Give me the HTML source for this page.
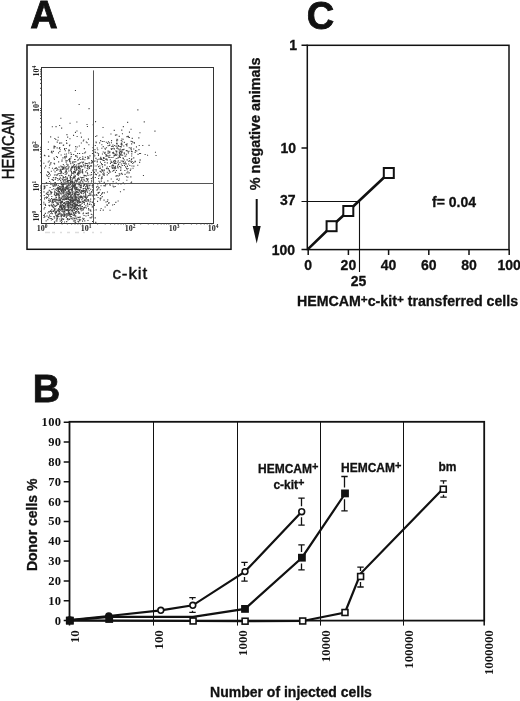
<!DOCTYPE html>
<html><head><meta charset="utf-8"><title>Figure</title>
<style>
html,body{margin:0;padding:0;background:#fff;width:520px;height:701px;overflow:hidden;}
svg{display:block;will-change:transform;}
text{fill:#111;}
</style></head>
<body>
<svg width="520" height="701" viewBox="0 0 520 701">
<text x="30.2" y="28" font-family="Liberation Sans, sans-serif" font-size="38" font-weight="bold" text-anchor="start" stroke="#111" stroke-width="0.8">A</text>
<rect x="27" y="45" width="204" height="204.3" fill="none" stroke="#111" stroke-width="1.5"/>
<rect x="41.5" y="67.5" width="172" height="156" fill="none" stroke="#333" stroke-width="1"/>
<path d="M64.7 206.7h1.1v1.1h-1.1zM65.1 193.6h1.1v1.1h-1.1zM55.9 196.9h1.1v1.1h-1.1zM82.5 202.0h1.1v1.1h-1.1zM81.5 199.4h1.1v1.1h-1.1zM73.1 200.0h1.1v1.1h-1.1zM46.3 215.5h1.1v1.1h-1.1zM74.6 204.7h1.1v1.1h-1.1zM46.0 174.5h1.1v1.1h-1.1zM56.4 192.7h1.1v1.1h-1.1zM72.0 196.5h1.1v1.1h-1.1zM74.8 186.6h1.1v1.1h-1.1zM72.0 203.5h1.1v1.1h-1.1zM75.2 215.6h1.1v1.1h-1.1zM59.9 187.8h1.1v1.1h-1.1zM63.5 197.1h1.1v1.1h-1.1zM76.2 200.4h1.1v1.1h-1.1zM62.2 183.9h1.1v1.1h-1.1zM61.2 218.6h1.1v1.1h-1.1zM57.5 203.8h1.1v1.1h-1.1zM73.5 173.4h1.1v1.1h-1.1zM68.6 218.5h1.1v1.1h-1.1zM66.6 185.3h1.1v1.1h-1.1zM74.5 195.8h1.1v1.1h-1.1zM49.0 214.6h1.1v1.1h-1.1zM76.7 211.4h1.1v1.1h-1.1zM86.7 200.3h1.1v1.1h-1.1zM69.6 177.2h1.1v1.1h-1.1zM76.0 186.8h1.1v1.1h-1.1zM62.1 179.1h1.1v1.1h-1.1zM55.4 191.9h1.1v1.1h-1.1zM84.8 162.8h1.1v1.1h-1.1zM49.0 205.3h1.1v1.1h-1.1zM86.8 203.7h1.1v1.1h-1.1zM43.3 162.7h1.1v1.1h-1.1zM72.6 185.5h1.1v1.1h-1.1zM53.4 216.1h1.1v1.1h-1.1zM82.3 197.8h1.1v1.1h-1.1zM71.2 204.3h1.1v1.1h-1.1zM88.7 204.0h1.1v1.1h-1.1zM74.7 205.4h1.1v1.1h-1.1zM80.4 204.1h1.1v1.1h-1.1zM78.9 167.3h1.1v1.1h-1.1zM65.6 214.6h1.1v1.1h-1.1zM75.2 194.3h1.1v1.1h-1.1zM72.2 207.5h1.1v1.1h-1.1zM69.6 215.8h1.1v1.1h-1.1zM59.4 193.0h1.1v1.1h-1.1zM81.5 195.9h1.1v1.1h-1.1zM56.6 215.1h1.1v1.1h-1.1zM87.1 187.4h1.1v1.1h-1.1zM50.1 199.2h1.1v1.1h-1.1zM66.1 193.6h1.1v1.1h-1.1zM86.3 178.4h1.1v1.1h-1.1zM84.4 174.9h1.1v1.1h-1.1zM57.8 209.9h1.1v1.1h-1.1zM82.7 208.9h1.1v1.1h-1.1zM72.5 199.4h1.1v1.1h-1.1zM70.0 206.7h1.1v1.1h-1.1zM65.7 202.8h1.1v1.1h-1.1zM75.4 196.6h1.1v1.1h-1.1zM77.9 205.1h1.1v1.1h-1.1zM94.1 198.3h1.1v1.1h-1.1zM62.4 193.1h1.1v1.1h-1.1zM67.8 212.6h1.1v1.1h-1.1zM63.6 204.9h1.1v1.1h-1.1zM91.9 153.0h1.1v1.1h-1.1zM53.4 204.6h1.1v1.1h-1.1zM73.2 200.8h1.1v1.1h-1.1zM62.4 209.4h1.1v1.1h-1.1zM71.7 189.1h1.1v1.1h-1.1zM99.6 197.8h1.1v1.1h-1.1zM60.8 197.8h1.1v1.1h-1.1zM65.1 197.5h1.1v1.1h-1.1zM81.1 177.1h1.1v1.1h-1.1zM67.1 213.2h1.1v1.1h-1.1zM79.1 219.5h1.1v1.1h-1.1zM45.9 196.5h1.1v1.1h-1.1zM63.6 208.7h1.1v1.1h-1.1zM82.2 152.9h1.1v1.1h-1.1zM82.2 172.5h1.1v1.1h-1.1zM76.9 172.8h1.1v1.1h-1.1zM70.3 216.5h1.1v1.1h-1.1zM66.1 201.4h1.1v1.1h-1.1zM78.4 198.3h1.1v1.1h-1.1zM81.6 190.8h1.1v1.1h-1.1zM103.7 173.3h1.1v1.1h-1.1zM79.9 191.6h1.1v1.1h-1.1zM69.7 208.8h1.1v1.1h-1.1zM70.9 207.6h1.1v1.1h-1.1zM48.1 177.8h1.1v1.1h-1.1zM76.0 181.3h1.1v1.1h-1.1zM54.7 177.2h1.1v1.1h-1.1zM84.5 206.8h1.1v1.1h-1.1zM87.1 179.6h1.1v1.1h-1.1zM68.0 180.0h1.1v1.1h-1.1zM78.0 221.3h1.1v1.1h-1.1zM80.8 192.8h1.1v1.1h-1.1zM66.7 188.7h1.1v1.1h-1.1zM73.2 203.5h1.1v1.1h-1.1zM87.5 178.3h1.1v1.1h-1.1zM82.8 218.8h1.1v1.1h-1.1zM86.9 191.7h1.1v1.1h-1.1zM58.3 215.9h1.1v1.1h-1.1zM69.5 199.7h1.1v1.1h-1.1zM86.5 190.4h1.1v1.1h-1.1zM43.9 215.4h1.1v1.1h-1.1zM72.1 187.6h1.1v1.1h-1.1zM67.9 211.2h1.1v1.1h-1.1zM69.0 218.8h1.1v1.1h-1.1zM67.2 214.6h1.1v1.1h-1.1zM87.4 219.9h1.1v1.1h-1.1zM59.3 213.5h1.1v1.1h-1.1zM43.6 185.4h1.1v1.1h-1.1zM52.0 200.8h1.1v1.1h-1.1zM65.5 198.0h1.1v1.1h-1.1zM60.3 203.1h1.1v1.1h-1.1zM91.3 194.4h1.1v1.1h-1.1zM74.9 212.6h1.1v1.1h-1.1zM65.4 178.5h1.1v1.1h-1.1zM60.8 216.3h1.1v1.1h-1.1zM46.6 192.5h1.1v1.1h-1.1zM81.1 208.1h1.1v1.1h-1.1zM68.1 210.7h1.1v1.1h-1.1zM70.2 179.0h1.1v1.1h-1.1zM47.7 191.6h1.1v1.1h-1.1zM80.0 186.8h1.1v1.1h-1.1zM56.3 188.0h1.1v1.1h-1.1zM48.1 199.8h1.1v1.1h-1.1zM52.7 206.6h1.1v1.1h-1.1zM59.7 168.8h1.1v1.1h-1.1zM77.4 191.9h1.1v1.1h-1.1zM71.8 190.0h1.1v1.1h-1.1zM78.1 208.0h1.1v1.1h-1.1zM76.7 201.6h1.1v1.1h-1.1zM85.3 205.2h1.1v1.1h-1.1zM73.9 164.0h1.1v1.1h-1.1zM79.7 216.6h1.1v1.1h-1.1zM64.1 191.3h1.1v1.1h-1.1zM93.2 165.5h1.1v1.1h-1.1zM55.9 211.1h1.1v1.1h-1.1zM92.5 191.6h1.1v1.1h-1.1zM75.3 210.9h1.1v1.1h-1.1zM56.2 198.8h1.1v1.1h-1.1zM71.8 210.4h1.1v1.1h-1.1zM67.6 195.0h1.1v1.1h-1.1zM54.8 194.8h1.1v1.1h-1.1zM79.6 197.5h1.1v1.1h-1.1zM56.9 186.7h1.1v1.1h-1.1zM102.7 209.6h1.1v1.1h-1.1zM76.3 155.5h1.1v1.1h-1.1zM76.1 204.1h1.1v1.1h-1.1zM89.9 200.7h1.1v1.1h-1.1zM67.1 206.4h1.1v1.1h-1.1zM72.2 186.1h1.1v1.1h-1.1zM49.8 190.8h1.1v1.1h-1.1zM71.8 200.2h1.1v1.1h-1.1zM62.8 183.5h1.1v1.1h-1.1zM95.6 209.3h1.1v1.1h-1.1zM52.5 179.6h1.1v1.1h-1.1zM90.1 209.6h1.1v1.1h-1.1zM91.7 206.4h1.1v1.1h-1.1zM56.7 204.2h1.1v1.1h-1.1zM67.2 206.4h1.1v1.1h-1.1zM58.5 197.8h1.1v1.1h-1.1zM74.0 202.9h1.1v1.1h-1.1zM76.3 199.8h1.1v1.1h-1.1zM63.8 211.3h1.1v1.1h-1.1zM68.6 184.8h1.1v1.1h-1.1zM59.9 199.5h1.1v1.1h-1.1zM66.6 200.7h1.1v1.1h-1.1zM68.0 200.8h1.1v1.1h-1.1zM66.3 178.4h1.1v1.1h-1.1zM73.5 213.7h1.1v1.1h-1.1zM73.7 194.0h1.1v1.1h-1.1zM73.8 181.7h1.1v1.1h-1.1zM43.4 203.5h1.1v1.1h-1.1zM55.9 211.9h1.1v1.1h-1.1zM53.9 159.0h1.1v1.1h-1.1zM63.0 177.3h1.1v1.1h-1.1zM58.1 208.1h1.1v1.1h-1.1zM74.5 199.6h1.1v1.1h-1.1zM87.3 205.6h1.1v1.1h-1.1zM67.7 207.5h1.1v1.1h-1.1zM89.5 209.4h1.1v1.1h-1.1zM81.3 178.4h1.1v1.1h-1.1zM66.1 209.9h1.1v1.1h-1.1zM64.1 215.6h1.1v1.1h-1.1zM75.8 210.9h1.1v1.1h-1.1zM84.1 191.6h1.1v1.1h-1.1zM63.5 212.7h1.1v1.1h-1.1zM80.7 195.8h1.1v1.1h-1.1zM52.8 203.8h1.1v1.1h-1.1zM72.7 215.0h1.1v1.1h-1.1zM78.2 196.5h1.1v1.1h-1.1zM79.1 204.5h1.1v1.1h-1.1zM70.7 198.4h1.1v1.1h-1.1zM64.8 209.4h1.1v1.1h-1.1zM54.3 190.6h1.1v1.1h-1.1zM68.1 174.8h1.1v1.1h-1.1zM62.3 167.3h1.1v1.1h-1.1zM59.1 208.6h1.1v1.1h-1.1zM75.4 195.8h1.1v1.1h-1.1zM65.0 176.1h1.1v1.1h-1.1zM91.8 201.8h1.1v1.1h-1.1zM82.2 181.4h1.1v1.1h-1.1zM65.6 169.7h1.1v1.1h-1.1zM78.1 210.9h1.1v1.1h-1.1zM43.3 201.7h1.1v1.1h-1.1zM76.2 168.6h1.1v1.1h-1.1zM44.3 185.5h1.1v1.1h-1.1zM59.8 177.3h1.1v1.1h-1.1zM68.4 201.9h1.1v1.1h-1.1zM76.2 207.6h1.1v1.1h-1.1zM87.5 212.8h1.1v1.1h-1.1zM50.9 193.2h1.1v1.1h-1.1zM54.2 183.5h1.1v1.1h-1.1zM66.9 198.3h1.1v1.1h-1.1zM74.4 171.7h1.1v1.1h-1.1zM51.9 200.6h1.1v1.1h-1.1zM65.4 193.6h1.1v1.1h-1.1zM67.2 186.1h1.1v1.1h-1.1zM77.1 201.9h1.1v1.1h-1.1zM66.9 187.6h1.1v1.1h-1.1zM65.7 155.4h1.1v1.1h-1.1zM55.2 200.9h1.1v1.1h-1.1zM48.4 204.8h1.1v1.1h-1.1zM69.9 175.9h1.1v1.1h-1.1zM64.7 193.6h1.1v1.1h-1.1zM74.0 206.6h1.1v1.1h-1.1zM67.5 184.6h1.1v1.1h-1.1zM66.1 197.3h1.1v1.1h-1.1zM77.5 200.9h1.1v1.1h-1.1zM58.6 178.3h1.1v1.1h-1.1zM63.1 187.2h1.1v1.1h-1.1zM53.5 198.8h1.1v1.1h-1.1zM61.6 200.8h1.1v1.1h-1.1zM74.8 190.2h1.1v1.1h-1.1zM98.2 187.3h1.1v1.1h-1.1zM82.3 197.3h1.1v1.1h-1.1zM82.5 157.7h1.1v1.1h-1.1zM58.2 203.7h1.1v1.1h-1.1zM72.2 217.5h1.1v1.1h-1.1zM78.0 211.1h1.1v1.1h-1.1zM74.6 194.3h1.1v1.1h-1.1zM74.6 179.7h1.1v1.1h-1.1zM83.4 179.1h1.1v1.1h-1.1zM65.1 198.8h1.1v1.1h-1.1zM83.1 195.6h1.1v1.1h-1.1zM57.5 204.0h1.1v1.1h-1.1zM75.6 207.8h1.1v1.1h-1.1zM89.7 194.3h1.1v1.1h-1.1zM71.5 190.6h1.1v1.1h-1.1zM86.4 183.5h1.1v1.1h-1.1zM76.8 188.8h1.1v1.1h-1.1zM59.0 211.0h1.1v1.1h-1.1zM85.3 194.6h1.1v1.1h-1.1zM59.2 212.5h1.1v1.1h-1.1zM67.4 203.0h1.1v1.1h-1.1zM87.8 212.2h1.1v1.1h-1.1zM68.0 210.4h1.1v1.1h-1.1zM59.6 198.8h1.1v1.1h-1.1zM85.8 175.5h1.1v1.1h-1.1zM48.4 176.0h1.1v1.1h-1.1zM83.3 187.9h1.1v1.1h-1.1zM67.2 193.2h1.1v1.1h-1.1zM66.4 181.1h1.1v1.1h-1.1zM68.3 175.2h1.1v1.1h-1.1zM67.1 203.1h1.1v1.1h-1.1zM74.1 193.2h1.1v1.1h-1.1zM56.3 202.7h1.1v1.1h-1.1zM78.0 194.3h1.1v1.1h-1.1zM61.9 188.0h1.1v1.1h-1.1zM55.8 194.7h1.1v1.1h-1.1zM71.8 205.4h1.1v1.1h-1.1zM58.8 199.9h1.1v1.1h-1.1zM104.3 161.8h1.1v1.1h-1.1zM61.2 201.9h1.1v1.1h-1.1zM70.0 204.1h1.1v1.1h-1.1zM64.9 204.4h1.1v1.1h-1.1zM68.7 210.1h1.1v1.1h-1.1zM43.4 188.5h1.1v1.1h-1.1zM68.0 181.7h1.1v1.1h-1.1zM54.4 210.4h1.1v1.1h-1.1zM59.6 209.6h1.1v1.1h-1.1zM77.7 201.1h1.1v1.1h-1.1zM74.6 195.1h1.1v1.1h-1.1zM49.7 200.9h1.1v1.1h-1.1zM73.9 188.5h1.1v1.1h-1.1zM66.7 210.1h1.1v1.1h-1.1zM56.6 210.2h1.1v1.1h-1.1zM92.2 184.8h1.1v1.1h-1.1zM69.9 195.3h1.1v1.1h-1.1zM88.0 199.3h1.1v1.1h-1.1zM79.7 184.9h1.1v1.1h-1.1zM67.8 197.9h1.1v1.1h-1.1zM79.7 168.2h1.1v1.1h-1.1zM77.7 194.1h1.1v1.1h-1.1zM73.8 202.7h1.1v1.1h-1.1zM48.5 198.2h1.1v1.1h-1.1zM87.4 185.3h1.1v1.1h-1.1zM54.7 178.9h1.1v1.1h-1.1zM52.1 206.2h1.1v1.1h-1.1zM90.0 200.7h1.1v1.1h-1.1zM61.2 188.6h1.1v1.1h-1.1zM74.9 205.4h1.1v1.1h-1.1zM54.8 181.9h1.1v1.1h-1.1zM71.8 201.2h1.1v1.1h-1.1zM51.0 197.9h1.1v1.1h-1.1zM60.9 206.6h1.1v1.1h-1.1zM66.5 196.9h1.1v1.1h-1.1zM63.4 215.5h1.1v1.1h-1.1zM86.1 188.9h1.1v1.1h-1.1zM79.0 184.0h1.1v1.1h-1.1zM68.9 209.7h1.1v1.1h-1.1zM87.7 188.3h1.1v1.1h-1.1zM67.0 201.3h1.1v1.1h-1.1zM48.5 201.8h1.1v1.1h-1.1zM59.2 205.5h1.1v1.1h-1.1zM53.3 169.4h1.1v1.1h-1.1zM68.5 202.0h1.1v1.1h-1.1zM60.9 213.4h1.1v1.1h-1.1zM64.4 189.1h1.1v1.1h-1.1zM74.2 172.0h1.1v1.1h-1.1zM59.2 199.3h1.1v1.1h-1.1zM79.0 193.4h1.1v1.1h-1.1zM72.0 186.9h1.1v1.1h-1.1zM59.6 199.8h1.1v1.1h-1.1zM70.3 213.8h1.1v1.1h-1.1zM51.9 167.7h1.1v1.1h-1.1zM75.9 209.1h1.1v1.1h-1.1zM70.7 201.5h1.1v1.1h-1.1zM80.1 201.6h1.1v1.1h-1.1zM89.6 174.4h1.1v1.1h-1.1zM63.1 144.4h1.1v1.1h-1.1zM78.6 190.2h1.1v1.1h-1.1zM67.9 194.0h1.1v1.1h-1.1zM61.5 185.9h1.1v1.1h-1.1zM59.8 209.6h1.1v1.1h-1.1zM68.5 199.0h1.1v1.1h-1.1zM65.7 212.9h1.1v1.1h-1.1zM74.4 194.6h1.1v1.1h-1.1zM76.6 194.0h1.1v1.1h-1.1zM74.0 181.7h1.1v1.1h-1.1zM82.0 200.9h1.1v1.1h-1.1zM72.3 211.3h1.1v1.1h-1.1zM70.6 195.2h1.1v1.1h-1.1zM47.9 217.1h1.1v1.1h-1.1zM68.4 193.4h1.1v1.1h-1.1zM72.6 198.4h1.1v1.1h-1.1zM76.8 190.5h1.1v1.1h-1.1zM67.5 164.3h1.1v1.1h-1.1zM62.5 209.7h1.1v1.1h-1.1zM85.4 189.0h1.1v1.1h-1.1zM63.8 210.4h1.1v1.1h-1.1zM89.8 194.6h1.1v1.1h-1.1zM83.9 183.8h1.1v1.1h-1.1zM70.7 196.3h1.1v1.1h-1.1zM69.5 215.6h1.1v1.1h-1.1zM99.1 181.7h1.1v1.1h-1.1zM60.5 207.2h1.1v1.1h-1.1zM54.3 208.4h1.1v1.1h-1.1zM75.4 192.2h1.1v1.1h-1.1zM74.9 172.2h1.1v1.1h-1.1zM77.9 171.7h1.1v1.1h-1.1zM58.9 190.9h1.1v1.1h-1.1zM62.8 212.5h1.1v1.1h-1.1zM69.1 191.5h1.1v1.1h-1.1zM75.1 221.7h1.1v1.1h-1.1zM68.1 203.8h1.1v1.1h-1.1zM84.1 199.3h1.1v1.1h-1.1zM96.7 161.3h1.1v1.1h-1.1zM67.5 204.7h1.1v1.1h-1.1zM80.6 206.3h1.1v1.1h-1.1zM64.5 182.0h1.1v1.1h-1.1zM69.3 214.1h1.1v1.1h-1.1zM53.8 184.4h1.1v1.1h-1.1zM67.7 167.4h1.1v1.1h-1.1zM64.6 191.7h1.1v1.1h-1.1zM73.9 185.8h1.1v1.1h-1.1zM56.5 193.9h1.1v1.1h-1.1zM67.4 187.6h1.1v1.1h-1.1zM68.2 209.8h1.1v1.1h-1.1zM57.8 193.2h1.1v1.1h-1.1zM58.6 199.2h1.1v1.1h-1.1zM74.8 175.3h1.1v1.1h-1.1zM74.0 196.5h1.1v1.1h-1.1zM44.3 207.0h1.1v1.1h-1.1zM83.5 165.6h1.1v1.1h-1.1zM78.5 199.4h1.1v1.1h-1.1zM74.2 203.8h1.1v1.1h-1.1zM85.0 191.3h1.1v1.1h-1.1zM79.4 189.4h1.1v1.1h-1.1zM77.5 183.4h1.1v1.1h-1.1zM73.8 194.4h1.1v1.1h-1.1zM53.1 188.2h1.1v1.1h-1.1zM70.5 212.4h1.1v1.1h-1.1zM73.5 205.3h1.1v1.1h-1.1zM67.5 219.5h1.1v1.1h-1.1zM62.9 190.2h1.1v1.1h-1.1zM79.5 196.9h1.1v1.1h-1.1zM64.4 189.6h1.1v1.1h-1.1zM64.7 208.5h1.1v1.1h-1.1zM72.6 178.0h1.1v1.1h-1.1zM73.5 199.8h1.1v1.1h-1.1zM55.0 212.6h1.1v1.1h-1.1zM64.4 193.4h1.1v1.1h-1.1zM78.3 217.0h1.1v1.1h-1.1zM59.0 206.6h1.1v1.1h-1.1zM61.6 218.1h1.1v1.1h-1.1zM59.6 212.4h1.1v1.1h-1.1zM96.8 152.5h1.1v1.1h-1.1zM62.4 207.0h1.1v1.1h-1.1zM66.8 187.6h1.1v1.1h-1.1zM96.0 194.1h1.1v1.1h-1.1zM46.6 215.5h1.1v1.1h-1.1zM45.6 220.3h1.1v1.1h-1.1zM60.5 201.7h1.1v1.1h-1.1zM84.4 196.8h1.1v1.1h-1.1zM49.9 174.5h1.1v1.1h-1.1zM83.4 206.9h1.1v1.1h-1.1zM57.4 213.6h1.1v1.1h-1.1zM74.5 207.1h1.1v1.1h-1.1zM79.7 207.4h1.1v1.1h-1.1zM79.5 157.0h1.1v1.1h-1.1zM70.2 205.4h1.1v1.1h-1.1zM101.2 176.8h1.1v1.1h-1.1zM63.7 199.4h1.1v1.1h-1.1zM79.5 188.9h1.1v1.1h-1.1zM82.9 182.8h1.1v1.1h-1.1zM71.5 189.0h1.1v1.1h-1.1zM70.1 186.7h1.1v1.1h-1.1zM47.2 219.1h1.1v1.1h-1.1zM71.9 188.4h1.1v1.1h-1.1zM70.6 213.2h1.1v1.1h-1.1zM55.3 198.6h1.1v1.1h-1.1zM75.0 205.0h1.1v1.1h-1.1zM63.6 165.5h1.1v1.1h-1.1zM84.2 200.2h1.1v1.1h-1.1zM68.2 193.6h1.1v1.1h-1.1zM71.4 190.6h1.1v1.1h-1.1zM54.7 188.8h1.1v1.1h-1.1zM60.2 189.7h1.1v1.1h-1.1zM52.9 210.8h1.1v1.1h-1.1zM51.0 211.6h1.1v1.1h-1.1zM54.8 206.0h1.1v1.1h-1.1zM85.9 197.9h1.1v1.1h-1.1zM58.5 200.5h1.1v1.1h-1.1zM69.9 170.2h1.1v1.1h-1.1zM60.1 202.0h1.1v1.1h-1.1zM61.9 200.4h1.1v1.1h-1.1zM77.5 208.4h1.1v1.1h-1.1zM79.8 205.1h1.1v1.1h-1.1zM64.3 198.4h1.1v1.1h-1.1zM64.5 193.7h1.1v1.1h-1.1zM65.7 171.1h1.1v1.1h-1.1zM63.7 198.4h1.1v1.1h-1.1zM55.3 200.0h1.1v1.1h-1.1zM74.7 194.2h1.1v1.1h-1.1zM95.0 151.8h1.1v1.1h-1.1zM65.3 169.6h1.1v1.1h-1.1zM74.7 192.0h1.1v1.1h-1.1zM75.2 161.2h1.1v1.1h-1.1zM79.1 201.8h1.1v1.1h-1.1zM68.3 188.7h1.1v1.1h-1.1zM76.3 188.8h1.1v1.1h-1.1zM70.9 189.4h1.1v1.1h-1.1zM70.6 209.4h1.1v1.1h-1.1zM56.6 199.6h1.1v1.1h-1.1zM76.0 198.8h1.1v1.1h-1.1zM56.2 169.8h1.1v1.1h-1.1zM79.1 220.1h1.1v1.1h-1.1zM80.0 208.7h1.1v1.1h-1.1zM60.0 188.2h1.1v1.1h-1.1zM79.5 181.4h1.1v1.1h-1.1zM44.4 186.6h1.1v1.1h-1.1zM59.1 188.1h1.1v1.1h-1.1zM71.0 185.6h1.1v1.1h-1.1zM85.0 193.6h1.1v1.1h-1.1zM53.9 221.3h1.1v1.1h-1.1zM60.4 202.9h1.1v1.1h-1.1zM67.8 193.1h1.1v1.1h-1.1zM72.2 186.3h1.1v1.1h-1.1zM44.0 167.5h1.1v1.1h-1.1zM51.5 189.0h1.1v1.1h-1.1zM67.7 198.9h1.1v1.1h-1.1zM75.2 198.6h1.1v1.1h-1.1zM57.7 188.7h1.1v1.1h-1.1zM74.3 205.2h1.1v1.1h-1.1zM66.4 195.5h1.1v1.1h-1.1zM80.2 196.0h1.1v1.1h-1.1zM77.6 205.4h1.1v1.1h-1.1zM70.8 218.2h1.1v1.1h-1.1zM60.6 193.7h1.1v1.1h-1.1zM57.5 187.3h1.1v1.1h-1.1zM68.3 206.9h1.1v1.1h-1.1zM83.3 208.0h1.1v1.1h-1.1zM83.7 175.1h1.1v1.1h-1.1zM59.7 206.7h1.1v1.1h-1.1zM86.7 196.2h1.1v1.1h-1.1zM56.8 194.5h1.1v1.1h-1.1zM59.4 186.0h1.1v1.1h-1.1zM87.5 184.5h1.1v1.1h-1.1zM83.4 200.5h1.1v1.1h-1.1zM60.0 206.0h1.1v1.1h-1.1zM89.1 204.0h1.1v1.1h-1.1zM84.4 196.5h1.1v1.1h-1.1zM74.7 193.6h1.1v1.1h-1.1zM73.5 217.5h1.1v1.1h-1.1zM49.4 200.4h1.1v1.1h-1.1zM71.1 188.4h1.1v1.1h-1.1zM64.0 211.2h1.1v1.1h-1.1zM94.0 203.2h1.1v1.1h-1.1zM72.2 172.7h1.1v1.1h-1.1zM93.1 194.6h1.1v1.1h-1.1zM67.6 180.4h1.1v1.1h-1.1zM67.3 180.8h1.1v1.1h-1.1zM68.9 205.2h1.1v1.1h-1.1zM68.4 202.3h1.1v1.1h-1.1zM59.5 170.8h1.1v1.1h-1.1zM65.6 186.4h1.1v1.1h-1.1zM54.9 194.8h1.1v1.1h-1.1zM71.8 178.6h1.1v1.1h-1.1zM66.2 220.9h1.1v1.1h-1.1zM76.9 194.0h1.1v1.1h-1.1zM69.7 195.8h1.1v1.1h-1.1zM67.4 209.7h1.1v1.1h-1.1zM66.8 160.2h1.1v1.1h-1.1zM67.7 184.0h1.1v1.1h-1.1zM76.5 186.8h1.1v1.1h-1.1zM54.4 182.7h1.1v1.1h-1.1zM49.7 163.5h1.1v1.1h-1.1zM43.6 208.3h1.1v1.1h-1.1zM59.7 170.0h1.1v1.1h-1.1zM48.7 211.3h1.1v1.1h-1.1zM57.9 194.1h1.1v1.1h-1.1zM72.3 218.7h1.1v1.1h-1.1zM93.2 209.7h1.1v1.1h-1.1zM69.9 200.6h1.1v1.1h-1.1zM91.4 216.3h1.1v1.1h-1.1zM64.0 206.0h1.1v1.1h-1.1zM71.7 198.1h1.1v1.1h-1.1zM61.5 178.2h1.1v1.1h-1.1zM61.1 174.9h1.1v1.1h-1.1zM83.9 203.6h1.1v1.1h-1.1zM79.6 165.7h1.1v1.1h-1.1zM91.9 206.4h1.1v1.1h-1.1zM94.8 173.6h1.1v1.1h-1.1zM74.9 203.4h1.1v1.1h-1.1zM70.6 200.2h1.1v1.1h-1.1zM81.7 171.8h1.1v1.1h-1.1zM51.9 178.9h1.1v1.1h-1.1zM60.8 189.8h1.1v1.1h-1.1zM72.8 201.3h1.1v1.1h-1.1zM68.4 187.2h1.1v1.1h-1.1zM62.3 214.1h1.1v1.1h-1.1zM77.9 197.8h1.1v1.1h-1.1zM60.3 209.7h1.1v1.1h-1.1zM83.0 191.0h1.1v1.1h-1.1zM78.7 178.4h1.1v1.1h-1.1zM81.2 198.7h1.1v1.1h-1.1zM47.4 212.4h1.1v1.1h-1.1zM56.4 220.4h1.1v1.1h-1.1zM59.2 197.0h1.1v1.1h-1.1zM71.7 192.1h1.1v1.1h-1.1zM71.4 188.6h1.1v1.1h-1.1zM76.7 196.5h1.1v1.1h-1.1zM70.7 154.0h1.1v1.1h-1.1zM83.1 195.7h1.1v1.1h-1.1zM44.8 203.8h1.1v1.1h-1.1zM74.1 213.8h1.1v1.1h-1.1zM66.1 209.1h1.1v1.1h-1.1zM63.2 181.2h1.1v1.1h-1.1zM82.3 209.7h1.1v1.1h-1.1zM88.0 207.9h1.1v1.1h-1.1zM60.5 173.1h1.1v1.1h-1.1zM59.5 188.9h1.1v1.1h-1.1zM57.4 209.2h1.1v1.1h-1.1zM72.3 192.9h1.1v1.1h-1.1zM70.2 195.3h1.1v1.1h-1.1zM70.8 209.4h1.1v1.1h-1.1zM80.5 184.8h1.1v1.1h-1.1zM69.5 215.2h1.1v1.1h-1.1zM46.6 196.7h1.1v1.1h-1.1zM68.4 175.1h1.1v1.1h-1.1zM61.3 210.7h1.1v1.1h-1.1zM82.0 220.6h1.1v1.1h-1.1zM56.8 177.9h1.1v1.1h-1.1zM74.8 211.6h1.1v1.1h-1.1zM70.5 176.9h1.1v1.1h-1.1zM78.2 208.7h1.1v1.1h-1.1zM75.2 189.0h1.1v1.1h-1.1zM72.0 209.8h1.1v1.1h-1.1zM60.7 170.2h1.1v1.1h-1.1zM72.3 204.8h1.1v1.1h-1.1zM68.2 212.0h1.1v1.1h-1.1zM60.4 198.1h1.1v1.1h-1.1zM64.0 207.8h1.1v1.1h-1.1zM88.7 190.2h1.1v1.1h-1.1zM94.7 217.3h1.1v1.1h-1.1zM78.3 205.4h1.1v1.1h-1.1zM91.0 190.9h1.1v1.1h-1.1zM66.5 181.5h1.1v1.1h-1.1zM74.1 218.1h1.1v1.1h-1.1zM74.9 203.4h1.1v1.1h-1.1zM65.4 201.2h1.1v1.1h-1.1zM49.5 218.0h1.1v1.1h-1.1zM62.7 181.5h1.1v1.1h-1.1zM58.2 186.8h1.1v1.1h-1.1zM79.1 212.7h1.1v1.1h-1.1zM50.3 215.9h1.1v1.1h-1.1zM79.5 186.7h1.1v1.1h-1.1zM48.7 189.8h1.1v1.1h-1.1zM59.8 204.9h1.1v1.1h-1.1zM63.4 166.8h1.1v1.1h-1.1zM71.0 173.2h1.1v1.1h-1.1zM79.8 176.7h1.1v1.1h-1.1zM59.0 186.1h1.1v1.1h-1.1zM60.9 219.8h1.1v1.1h-1.1zM79.1 205.5h1.1v1.1h-1.1zM72.2 172.7h1.1v1.1h-1.1zM61.2 190.5h1.1v1.1h-1.1zM55.3 208.4h1.1v1.1h-1.1zM58.4 188.6h1.1v1.1h-1.1zM54.4 168.0h1.1v1.1h-1.1zM75.7 217.6h1.1v1.1h-1.1zM70.3 182.1h1.1v1.1h-1.1zM83.8 199.8h1.1v1.1h-1.1zM80.1 219.2h1.1v1.1h-1.1zM82.6 188.3h1.1v1.1h-1.1zM81.7 207.7h1.1v1.1h-1.1zM48.0 195.3h1.1v1.1h-1.1zM49.5 199.7h1.1v1.1h-1.1zM75.5 179.7h1.1v1.1h-1.1zM72.9 220.4h1.1v1.1h-1.1zM50.8 218.0h1.1v1.1h-1.1zM65.3 202.8h1.1v1.1h-1.1zM66.0 214.2h1.1v1.1h-1.1zM81.5 196.9h1.1v1.1h-1.1zM50.3 213.0h1.1v1.1h-1.1zM61.9 209.1h1.1v1.1h-1.1zM82.8 188.1h1.1v1.1h-1.1zM61.0 206.1h1.1v1.1h-1.1zM83.5 215.0h1.1v1.1h-1.1zM74.7 175.9h1.1v1.1h-1.1zM51.6 204.9h1.1v1.1h-1.1zM56.8 218.1h1.1v1.1h-1.1zM78.0 169.7h1.1v1.1h-1.1zM57.4 202.6h1.1v1.1h-1.1zM61.6 196.7h1.1v1.1h-1.1zM74.1 184.1h1.1v1.1h-1.1zM74.1 186.8h1.1v1.1h-1.1zM60.9 207.8h1.1v1.1h-1.1zM60.5 203.9h1.1v1.1h-1.1zM88.8 194.6h1.1v1.1h-1.1zM66.1 210.0h1.1v1.1h-1.1zM63.2 216.0h1.1v1.1h-1.1zM51.3 210.9h1.1v1.1h-1.1zM61.3 186.6h1.1v1.1h-1.1zM91.0 180.3h1.1v1.1h-1.1zM90.8 204.2h1.1v1.1h-1.1zM86.9 179.1h1.1v1.1h-1.1zM83.6 218.2h1.1v1.1h-1.1zM66.5 196.2h1.1v1.1h-1.1zM99.9 194.9h1.1v1.1h-1.1zM62.5 189.0h1.1v1.1h-1.1zM73.8 202.2h1.1v1.1h-1.1zM63.7 206.3h1.1v1.1h-1.1zM87.0 178.6h1.1v1.1h-1.1zM50.4 183.9h1.1v1.1h-1.1zM54.5 171.3h1.1v1.1h-1.1zM73.9 167.6h1.1v1.1h-1.1zM74.5 219.8h1.1v1.1h-1.1zM47.0 196.9h1.1v1.1h-1.1zM43.1 214.9h1.1v1.1h-1.1zM58.4 195.6h1.1v1.1h-1.1zM68.7 206.5h1.1v1.1h-1.1zM63.5 199.1h1.1v1.1h-1.1zM60.9 201.1h1.1v1.1h-1.1zM52.8 201.8h1.1v1.1h-1.1zM92.9 194.7h1.1v1.1h-1.1zM51.6 205.1h1.1v1.1h-1.1zM55.4 174.2h1.1v1.1h-1.1zM58.4 211.4h1.1v1.1h-1.1zM73.0 195.5h1.1v1.1h-1.1zM56.0 183.2h1.1v1.1h-1.1zM85.5 198.6h1.1v1.1h-1.1zM55.6 166.9h1.1v1.1h-1.1zM53.1 199.5h1.1v1.1h-1.1zM70.7 195.0h1.1v1.1h-1.1zM64.4 176.9h1.1v1.1h-1.1zM58.2 213.2h1.1v1.1h-1.1zM46.0 197.7h1.1v1.1h-1.1zM71.4 213.8h1.1v1.1h-1.1zM53.4 210.1h1.1v1.1h-1.1zM73.0 185.4h1.1v1.1h-1.1zM74.2 182.6h1.1v1.1h-1.1zM57.7 199.6h1.1v1.1h-1.1zM55.0 177.3h1.1v1.1h-1.1zM62.5 211.1h1.1v1.1h-1.1zM62.7 219.0h1.1v1.1h-1.1zM52.9 180.0h1.1v1.1h-1.1zM88.2 200.6h1.1v1.1h-1.1zM80.3 182.7h1.1v1.1h-1.1zM78.5 200.2h1.1v1.1h-1.1zM76.4 196.8h1.1v1.1h-1.1zM83.7 184.8h1.1v1.1h-1.1zM55.5 176.9h1.1v1.1h-1.1zM83.1 183.5h1.1v1.1h-1.1zM54.4 185.6h1.1v1.1h-1.1zM62.2 179.0h1.1v1.1h-1.1zM64.2 188.8h1.1v1.1h-1.1zM60.8 184.1h1.1v1.1h-1.1zM68.5 190.6h1.1v1.1h-1.1zM69.5 201.7h1.1v1.1h-1.1zM72.4 162.6h1.1v1.1h-1.1zM61.0 186.7h1.1v1.1h-1.1zM78.1 171.2h1.1v1.1h-1.1zM58.7 195.1h1.1v1.1h-1.1zM63.6 214.5h1.1v1.1h-1.1zM62.2 214.3h1.1v1.1h-1.1zM48.9 172.9h1.1v1.1h-1.1zM83.9 202.0h1.1v1.1h-1.1zM74.3 198.8h1.1v1.1h-1.1zM74.3 177.6h1.1v1.1h-1.1zM80.3 187.3h1.1v1.1h-1.1zM80.8 197.0h1.1v1.1h-1.1zM82.7 193.1h1.1v1.1h-1.1zM62.9 202.8h1.1v1.1h-1.1zM62.5 190.4h1.1v1.1h-1.1zM69.3 200.0h1.1v1.1h-1.1zM87.7 195.1h1.1v1.1h-1.1zM90.3 210.7h1.1v1.1h-1.1zM69.7 199.9h1.1v1.1h-1.1zM66.1 186.8h1.1v1.1h-1.1zM67.1 188.0h1.1v1.1h-1.1zM89.3 202.5h1.1v1.1h-1.1zM62.2 168.8h1.1v1.1h-1.1zM67.3 191.5h1.1v1.1h-1.1zM53.9 182.6h1.1v1.1h-1.1zM67.6 195.7h1.1v1.1h-1.1zM86.8 196.7h1.1v1.1h-1.1zM70.2 191.7h1.1v1.1h-1.1zM63.5 199.3h1.1v1.1h-1.1zM56.5 215.4h1.1v1.1h-1.1zM49.9 210.3h1.1v1.1h-1.1zM82.2 217.7h1.1v1.1h-1.1zM55.8 217.5h1.1v1.1h-1.1zM58.7 187.7h1.1v1.1h-1.1zM50.8 219.5h1.1v1.1h-1.1zM89.4 184.6h1.1v1.1h-1.1zM58.1 194.5h1.1v1.1h-1.1zM100.6 207.9h1.1v1.1h-1.1zM60.9 170.9h1.1v1.1h-1.1zM59.3 218.4h1.1v1.1h-1.1zM92.3 189.3h1.1v1.1h-1.1zM59.0 191.6h1.1v1.1h-1.1zM43.5 216.9h1.1v1.1h-1.1zM53.9 217.4h1.1v1.1h-1.1zM45.8 182.0h1.1v1.1h-1.1zM71.7 185.2h1.1v1.1h-1.1zM78.2 196.3h1.1v1.1h-1.1zM52.7 210.7h1.1v1.1h-1.1zM78.9 165.7h1.1v1.1h-1.1zM91.7 201.5h1.1v1.1h-1.1zM77.9 166.8h1.1v1.1h-1.1zM58.6 194.2h1.1v1.1h-1.1zM82.0 172.3h1.1v1.1h-1.1zM56.5 168.0h1.1v1.1h-1.1zM64.9 204.1h1.1v1.1h-1.1zM46.1 192.7h1.1v1.1h-1.1zM74.6 221.9h1.1v1.1h-1.1zM76.6 191.6h1.1v1.1h-1.1zM52.7 186.0h1.1v1.1h-1.1zM59.4 201.9h1.1v1.1h-1.1zM71.7 180.4h1.1v1.1h-1.1zM88.1 209.3h1.1v1.1h-1.1zM69.3 186.4h1.1v1.1h-1.1zM43.7 186.3h1.1v1.1h-1.1zM79.9 183.1h1.1v1.1h-1.1zM50.8 204.3h1.1v1.1h-1.1zM71.2 207.0h1.1v1.1h-1.1zM76.5 218.7h1.1v1.1h-1.1zM57.1 215.5h1.1v1.1h-1.1zM55.2 211.3h1.1v1.1h-1.1zM70.3 201.4h1.1v1.1h-1.1zM80.6 195.4h1.1v1.1h-1.1zM82.5 209.2h1.1v1.1h-1.1zM69.8 188.7h1.1v1.1h-1.1zM58.2 191.5h1.1v1.1h-1.1zM65.4 198.1h1.1v1.1h-1.1zM106.8 200.9h1.1v1.1h-1.1zM78.0 182.5h1.1v1.1h-1.1zM58.8 194.7h1.1v1.1h-1.1zM70.5 181.2h1.1v1.1h-1.1zM89.0 185.2h1.1v1.1h-1.1zM82.0 158.5h1.1v1.1h-1.1zM67.9 202.4h1.1v1.1h-1.1zM70.5 207.1h1.1v1.1h-1.1zM71.6 199.9h1.1v1.1h-1.1zM43.4 191.3h1.1v1.1h-1.1zM72.0 194.2h1.1v1.1h-1.1zM57.3 190.8h1.1v1.1h-1.1zM92.0 221.0h1.1v1.1h-1.1zM67.2 218.5h1.1v1.1h-1.1zM47.4 171.2h1.1v1.1h-1.1zM61.7 185.3h1.1v1.1h-1.1zM60.7 202.3h1.1v1.1h-1.1zM107.3 180.3h1.1v1.1h-1.1zM68.6 202.3h1.1v1.1h-1.1zM67.6 212.8h1.1v1.1h-1.1zM91.1 174.1h1.1v1.1h-1.1zM70.1 193.4h1.1v1.1h-1.1zM72.6 172.9h1.1v1.1h-1.1zM45.1 165.6h1.1v1.1h-1.1zM74.8 199.8h1.1v1.1h-1.1zM69.0 160.4h1.1v1.1h-1.1zM63.1 186.9h1.1v1.1h-1.1zM49.6 186.9h1.1v1.1h-1.1zM77.1 204.9h1.1v1.1h-1.1zM67.7 206.2h1.1v1.1h-1.1zM60.2 200.6h1.1v1.1h-1.1zM68.5 206.7h1.1v1.1h-1.1zM67.1 195.9h1.1v1.1h-1.1zM66.2 188.1h1.1v1.1h-1.1zM97.0 200.8h1.1v1.1h-1.1zM86.2 170.0h1.1v1.1h-1.1zM77.0 209.6h1.1v1.1h-1.1zM92.5 214.3h1.1v1.1h-1.1zM78.0 177.5h1.1v1.1h-1.1zM56.7 204.3h1.1v1.1h-1.1zM74.6 180.6h1.1v1.1h-1.1zM63.0 192.6h1.1v1.1h-1.1zM68.8 203.2h1.1v1.1h-1.1zM64.3 179.1h1.1v1.1h-1.1zM84.2 220.3h1.1v1.1h-1.1zM66.6 214.5h1.1v1.1h-1.1zM73.8 207.4h1.1v1.1h-1.1zM74.3 184.8h1.1v1.1h-1.1zM75.5 212.6h1.1v1.1h-1.1zM95.2 221.8h1.1v1.1h-1.1zM93.9 205.0h1.1v1.1h-1.1zM63.6 189.3h1.1v1.1h-1.1zM57.4 201.8h1.1v1.1h-1.1zM67.6 208.7h1.1v1.1h-1.1zM97.6 192.1h1.1v1.1h-1.1zM76.8 203.9h1.1v1.1h-1.1zM71.6 194.0h1.1v1.1h-1.1zM66.4 185.3h1.1v1.1h-1.1zM70.3 197.2h1.1v1.1h-1.1zM72.2 183.7h1.1v1.1h-1.1zM68.5 198.7h1.1v1.1h-1.1zM75.9 179.7h1.1v1.1h-1.1zM73.5 212.5h1.1v1.1h-1.1zM75.8 190.7h1.1v1.1h-1.1zM61.6 195.4h1.1v1.1h-1.1zM77.5 220.8h1.1v1.1h-1.1zM65.9 188.2h1.1v1.1h-1.1zM72.9 200.3h1.1v1.1h-1.1zM56.2 188.5h1.1v1.1h-1.1zM66.7 208.9h1.1v1.1h-1.1zM52.5 184.8h1.1v1.1h-1.1zM74.5 177.4h1.1v1.1h-1.1zM69.4 203.3h1.1v1.1h-1.1zM66.6 182.2h1.1v1.1h-1.1zM67.2 192.9h1.1v1.1h-1.1zM72.4 183.9h1.1v1.1h-1.1zM82.2 168.9h1.1v1.1h-1.1zM65.7 198.5h1.1v1.1h-1.1zM80.5 186.1h1.1v1.1h-1.1zM75.1 187.7h1.1v1.1h-1.1zM62.8 206.0h1.1v1.1h-1.1zM55.9 215.6h1.1v1.1h-1.1zM83.7 195.7h1.1v1.1h-1.1zM53.2 207.1h1.1v1.1h-1.1zM82.9 212.5h1.1v1.1h-1.1zM78.6 167.1h1.1v1.1h-1.1zM52.1 218.8h1.1v1.1h-1.1zM92.5 205.5h1.1v1.1h-1.1zM82.6 190.0h1.1v1.1h-1.1zM52.1 199.3h1.1v1.1h-1.1zM65.4 197.7h1.1v1.1h-1.1zM77.1 194.0h1.1v1.1h-1.1zM70.5 204.2h1.1v1.1h-1.1zM73.8 198.3h1.1v1.1h-1.1zM65.3 188.6h1.1v1.1h-1.1zM85.5 197.1h1.1v1.1h-1.1zM54.0 191.7h1.1v1.1h-1.1zM66.2 191.3h1.1v1.1h-1.1zM82.1 177.0h1.1v1.1h-1.1zM74.4 199.1h1.1v1.1h-1.1zM52.7 201.6h1.1v1.1h-1.1zM66.8 206.2h1.1v1.1h-1.1zM62.1 203.9h1.1v1.1h-1.1zM46.4 184.9h1.1v1.1h-1.1zM78.2 212.6h1.1v1.1h-1.1zM67.8 188.6h1.1v1.1h-1.1zM82.1 162.3h1.1v1.1h-1.1zM57.6 210.6h1.1v1.1h-1.1zM76.5 180.1h1.1v1.1h-1.1zM70.0 183.5h1.1v1.1h-1.1zM68.7 212.1h1.1v1.1h-1.1zM77.6 163.3h1.1v1.1h-1.1zM78.0 168.0h1.1v1.1h-1.1zM82.8 201.6h1.1v1.1h-1.1zM97.3 182.9h1.1v1.1h-1.1zM68.1 214.6h1.1v1.1h-1.1zM59.7 188.4h1.1v1.1h-1.1zM63.2 197.7h1.1v1.1h-1.1zM53.9 208.3h1.1v1.1h-1.1zM75.1 197.8h1.1v1.1h-1.1zM90.1 188.7h1.1v1.1h-1.1zM85.0 186.2h1.1v1.1h-1.1zM77.8 165.6h1.1v1.1h-1.1zM70.6 194.8h1.1v1.1h-1.1zM61.6 189.5h1.1v1.1h-1.1zM63.5 187.4h1.1v1.1h-1.1zM60.9 191.0h1.1v1.1h-1.1zM54.2 198.4h1.1v1.1h-1.1zM78.2 192.2h1.1v1.1h-1.1zM61.6 220.7h1.1v1.1h-1.1zM80.7 210.2h1.1v1.1h-1.1zM83.0 190.1h1.1v1.1h-1.1zM66.3 215.9h1.1v1.1h-1.1zM60.8 197.4h1.1v1.1h-1.1zM72.9 203.0h1.1v1.1h-1.1zM64.4 214.2h1.1v1.1h-1.1zM65.7 209.9h1.1v1.1h-1.1zM81.9 205.9h1.1v1.1h-1.1zM77.5 177.9h1.1v1.1h-1.1zM51.0 191.4h1.1v1.1h-1.1zM74.2 220.6h1.1v1.1h-1.1zM52.1 205.8h1.1v1.1h-1.1zM56.9 188.5h1.1v1.1h-1.1zM64.4 209.6h1.1v1.1h-1.1zM70.8 216.1h1.1v1.1h-1.1zM55.2 214.4h1.1v1.1h-1.1zM80.1 196.9h1.1v1.1h-1.1zM74.2 187.9h1.1v1.1h-1.1zM53.8 194.2h1.1v1.1h-1.1zM70.6 202.5h1.1v1.1h-1.1zM77.7 183.9h1.1v1.1h-1.1zM79.9 201.8h1.1v1.1h-1.1zM48.3 211.1h1.1v1.1h-1.1zM75.2 203.8h1.1v1.1h-1.1zM88.6 187.6h1.1v1.1h-1.1zM74.7 208.6h1.1v1.1h-1.1zM56.3 219.1h1.1v1.1h-1.1zM49.1 180.9h1.1v1.1h-1.1zM74.8 179.5h1.1v1.1h-1.1zM66.5 172.3h1.1v1.1h-1.1zM68.9 179.9h1.1v1.1h-1.1zM72.4 172.9h1.1v1.1h-1.1zM73.8 192.7h1.1v1.1h-1.1zM68.8 196.8h1.1v1.1h-1.1zM69.7 176.8h1.1v1.1h-1.1zM55.8 193.1h1.1v1.1h-1.1zM73.5 165.6h1.1v1.1h-1.1zM58.1 190.2h1.1v1.1h-1.1zM54.3 205.7h1.1v1.1h-1.1zM66.2 185.4h1.1v1.1h-1.1zM55.2 213.1h1.1v1.1h-1.1zM59.4 208.8h1.1v1.1h-1.1zM73.8 167.0h1.1v1.1h-1.1zM53.9 200.6h1.1v1.1h-1.1zM72.4 209.5h1.1v1.1h-1.1zM78.4 212.4h1.1v1.1h-1.1zM63.1 195.6h1.1v1.1h-1.1zM78.1 189.4h1.1v1.1h-1.1zM81.7 170.3h1.1v1.1h-1.1zM76.5 193.7h1.1v1.1h-1.1zM72.0 197.6h1.1v1.1h-1.1zM54.0 193.2h1.1v1.1h-1.1zM87.7 181.3h1.1v1.1h-1.1zM52.4 198.8h1.1v1.1h-1.1zM62.9 184.5h1.1v1.1h-1.1zM57.1 216.6h1.1v1.1h-1.1zM60.9 182.0h1.1v1.1h-1.1zM78.2 205.0h1.1v1.1h-1.1zM54.4 212.3h1.1v1.1h-1.1zM44.1 187.8h1.1v1.1h-1.1zM82.6 191.3h1.1v1.1h-1.1zM51.1 209.3h1.1v1.1h-1.1zM79.9 195.4h1.1v1.1h-1.1zM44.5 196.9h1.1v1.1h-1.1zM73.4 209.2h1.1v1.1h-1.1zM92.1 189.6h1.1v1.1h-1.1zM61.7 198.6h1.1v1.1h-1.1zM83.7 180.2h1.1v1.1h-1.1zM85.0 151.4h1.1v1.1h-1.1zM78.4 185.4h1.1v1.1h-1.1zM74.0 207.8h1.1v1.1h-1.1zM52.6 199.5h1.1v1.1h-1.1zM71.1 206.7h1.1v1.1h-1.1zM55.9 184.5h1.1v1.1h-1.1zM65.5 194.9h1.1v1.1h-1.1zM48.6 216.3h1.1v1.1h-1.1zM61.0 222.0h1.1v1.1h-1.1zM79.1 196.3h1.1v1.1h-1.1zM77.5 178.7h1.1v1.1h-1.1zM63.8 189.7h1.1v1.1h-1.1zM51.5 201.3h1.1v1.1h-1.1zM66.1 221.1h1.1v1.1h-1.1zM56.1 192.9h1.1v1.1h-1.1zM73.5 203.4h1.1v1.1h-1.1zM68.4 190.4h1.1v1.1h-1.1zM74.4 202.5h1.1v1.1h-1.1zM44.0 198.3h1.1v1.1h-1.1zM50.1 182.6h1.1v1.1h-1.1zM69.9 198.6h1.1v1.1h-1.1zM69.5 183.9h1.1v1.1h-1.1zM65.4 184.0h1.1v1.1h-1.1zM73.0 208.0h1.1v1.1h-1.1zM90.8 213.8h1.1v1.1h-1.1zM57.5 192.7h1.1v1.1h-1.1zM55.8 205.1h1.1v1.1h-1.1zM93.7 204.5h1.1v1.1h-1.1zM51.2 209.3h1.1v1.1h-1.1zM68.0 202.7h1.1v1.1h-1.1zM91.2 180.6h1.1v1.1h-1.1zM72.4 184.9h1.1v1.1h-1.1zM68.6 213.6h1.1v1.1h-1.1zM66.2 187.4h1.1v1.1h-1.1zM45.0 205.0h1.1v1.1h-1.1zM68.3 207.7h1.1v1.1h-1.1zM62.7 206.9h1.1v1.1h-1.1zM78.6 193.7h1.1v1.1h-1.1zM62.1 196.2h1.1v1.1h-1.1zM55.5 197.0h1.1v1.1h-1.1zM64.1 202.1h1.1v1.1h-1.1zM85.4 215.5h1.1v1.1h-1.1zM62.2 208.6h1.1v1.1h-1.1zM71.8 209.3h1.1v1.1h-1.1zM68.3 202.2h1.1v1.1h-1.1zM61.9 186.7h1.1v1.1h-1.1zM79.3 216.5h1.1v1.1h-1.1zM76.6 203.3h1.1v1.1h-1.1zM71.5 190.2h1.1v1.1h-1.1zM44.8 212.8h1.1v1.1h-1.1zM70.6 188.8h1.1v1.1h-1.1zM55.5 220.5h1.1v1.1h-1.1zM58.7 199.4h1.1v1.1h-1.1zM61.4 201.7h1.1v1.1h-1.1zM65.3 186.7h1.1v1.1h-1.1zM82.0 183.0h1.1v1.1h-1.1zM61.4 208.0h1.1v1.1h-1.1zM61.0 192.4h1.1v1.1h-1.1zM72.6 191.3h1.1v1.1h-1.1zM51.8 199.4h1.1v1.1h-1.1zM53.7 216.0h1.1v1.1h-1.1zM57.8 194.3h1.1v1.1h-1.1zM63.8 203.1h1.1v1.1h-1.1zM59.7 220.6h1.1v1.1h-1.1zM80.9 208.5h1.1v1.1h-1.1zM58.1 214.1h1.1v1.1h-1.1zM66.6 203.8h1.1v1.1h-1.1zM64.5 209.2h1.1v1.1h-1.1zM82.5 213.2h1.1v1.1h-1.1zM65.3 214.2h1.1v1.1h-1.1zM86.9 179.7h1.1v1.1h-1.1zM87.1 173.3h1.1v1.1h-1.1zM75.1 206.1h1.1v1.1h-1.1zM87.3 198.9h1.1v1.1h-1.1zM61.8 186.5h1.1v1.1h-1.1zM51.7 213.1h1.1v1.1h-1.1zM64.9 187.2h1.1v1.1h-1.1zM74.9 184.6h1.1v1.1h-1.1zM62.3 191.8h1.1v1.1h-1.1zM89.5 217.2h1.1v1.1h-1.1zM65.9 173.5h1.1v1.1h-1.1zM71.6 198.5h1.1v1.1h-1.1zM72.5 206.1h1.1v1.1h-1.1zM63.8 213.4h1.1v1.1h-1.1zM78.9 199.3h1.1v1.1h-1.1zM62.7 191.4h1.1v1.1h-1.1zM77.0 178.9h1.1v1.1h-1.1zM65.9 186.5h1.1v1.1h-1.1zM49.9 210.9h1.1v1.1h-1.1zM67.7 198.6h1.1v1.1h-1.1zM79.4 172.3h1.1v1.1h-1.1zM67.1 202.7h1.1v1.1h-1.1zM78.8 178.8h1.1v1.1h-1.1zM77.3 199.8h1.1v1.1h-1.1zM85.6 212.8h1.1v1.1h-1.1zM68.0 191.3h1.1v1.1h-1.1zM63.6 183.9h1.1v1.1h-1.1zM67.6 168.4h1.1v1.1h-1.1zM66.9 204.9h1.1v1.1h-1.1zM80.9 190.1h1.1v1.1h-1.1zM86.1 184.4h1.1v1.1h-1.1zM66.3 168.6h1.1v1.1h-1.1zM58.1 187.3h1.1v1.1h-1.1zM87.0 202.7h1.1v1.1h-1.1zM54.0 208.8h1.1v1.1h-1.1zM74.1 193.3h1.1v1.1h-1.1zM68.3 193.2h1.1v1.1h-1.1zM61.1 171.9h1.1v1.1h-1.1zM66.9 218.1h1.1v1.1h-1.1zM86.2 190.3h1.1v1.1h-1.1zM58.5 196.5h1.1v1.1h-1.1zM79.4 201.3h1.1v1.1h-1.1zM60.6 205.0h1.1v1.1h-1.1zM65.4 206.4h1.1v1.1h-1.1zM62.8 176.2h1.1v1.1h-1.1zM68.7 209.6h1.1v1.1h-1.1zM54.0 198.9h1.1v1.1h-1.1zM79.1 190.2h1.1v1.1h-1.1zM78.5 211.9h1.1v1.1h-1.1zM47.0 193.9h1.1v1.1h-1.1zM77.4 216.8h1.1v1.1h-1.1zM56.2 189.9h1.1v1.1h-1.1zM70.5 167.9h1.1v1.1h-1.1zM76.1 205.1h1.1v1.1h-1.1zM62.3 207.3h1.1v1.1h-1.1zM77.8 200.9h1.1v1.1h-1.1zM74.6 220.0h1.1v1.1h-1.1zM62.0 201.6h1.1v1.1h-1.1zM61.4 215.1h1.1v1.1h-1.1zM62.9 206.2h1.1v1.1h-1.1zM69.7 198.7h1.1v1.1h-1.1zM89.6 192.7h1.1v1.1h-1.1zM85.9 207.4h1.1v1.1h-1.1zM84.6 192.4h1.1v1.1h-1.1zM79.7 207.4h1.1v1.1h-1.1zM60.3 203.5h1.1v1.1h-1.1zM66.4 197.8h1.1v1.1h-1.1zM84.4 184.0h1.1v1.1h-1.1zM46.9 175.3h1.1v1.1h-1.1zM62.3 189.2h1.1v1.1h-1.1zM68.2 206.6h1.1v1.1h-1.1zM90.1 198.6h1.1v1.1h-1.1zM73.8 185.7h1.1v1.1h-1.1zM75.3 217.4h1.1v1.1h-1.1zM84.8 165.1h1.1v1.1h-1.1zM79.2 220.1h1.1v1.1h-1.1zM78.4 173.3h1.1v1.1h-1.1zM64.2 207.7h1.1v1.1h-1.1zM73.2 184.7h1.1v1.1h-1.1zM56.8 214.8h1.1v1.1h-1.1zM68.3 202.5h1.1v1.1h-1.1zM51.3 192.0h1.1v1.1h-1.1zM76.6 174.0h1.1v1.1h-1.1zM93.9 171.8h1.1v1.1h-1.1zM52.7 201.5h1.1v1.1h-1.1zM74.0 208.0h1.1v1.1h-1.1zM63.4 195.7h1.1v1.1h-1.1zM65.0 189.8h1.1v1.1h-1.1zM71.1 199.8h1.1v1.1h-1.1zM60.1 203.3h1.1v1.1h-1.1zM67.8 196.9h1.1v1.1h-1.1zM81.8 169.3h1.1v1.1h-1.1zM71.1 181.2h1.1v1.1h-1.1zM64.0 221.5h1.1v1.1h-1.1zM54.5 199.0h1.1v1.1h-1.1zM60.6 213.8h1.1v1.1h-1.1zM55.8 174.7h1.1v1.1h-1.1zM74.4 191.4h1.1v1.1h-1.1zM64.0 215.2h1.1v1.1h-1.1zM56.9 194.4h1.1v1.1h-1.1zM69.8 203.9h1.1v1.1h-1.1zM61.5 214.9h1.1v1.1h-1.1zM96.0 186.6h1.1v1.1h-1.1zM91.3 161.6h1.1v1.1h-1.1zM85.6 189.5h1.1v1.1h-1.1zM69.7 192.5h1.1v1.1h-1.1zM60.1 180.1h1.1v1.1h-1.1zM63.1 218.6h1.1v1.1h-1.1zM82.2 190.1h1.1v1.1h-1.1zM61.4 188.6h1.1v1.1h-1.1zM76.3 198.3h1.1v1.1h-1.1zM61.9 183.6h1.1v1.1h-1.1zM84.4 206.8h1.1v1.1h-1.1zM56.1 215.2h1.1v1.1h-1.1zM54.2 210.3h1.1v1.1h-1.1zM56.0 193.9h1.1v1.1h-1.1zM74.2 203.4h1.1v1.1h-1.1zM80.6 183.0h1.1v1.1h-1.1zM87.7 214.8h1.1v1.1h-1.1zM67.9 205.1h1.1v1.1h-1.1zM58.3 197.5h1.1v1.1h-1.1zM51.5 202.4h1.1v1.1h-1.1zM70.5 217.9h1.1v1.1h-1.1zM79.8 208.2h1.1v1.1h-1.1zM63.5 195.4h1.1v1.1h-1.1zM63.7 202.2h1.1v1.1h-1.1zM43.9 214.2h1.1v1.1h-1.1zM48.4 193.8h1.1v1.1h-1.1zM68.3 190.2h1.1v1.1h-1.1zM88.8 192.7h1.1v1.1h-1.1zM87.6 212.2h1.1v1.1h-1.1zM61.8 205.2h1.1v1.1h-1.1zM84.2 190.0h1.1v1.1h-1.1zM69.1 189.3h1.1v1.1h-1.1zM68.7 192.5h1.1v1.1h-1.1zM69.0 213.0h1.1v1.1h-1.1zM85.4 196.8h1.1v1.1h-1.1zM70.5 210.5h1.1v1.1h-1.1zM64.4 182.6h1.1v1.1h-1.1zM81.9 181.2h1.1v1.1h-1.1zM79.6 181.2h1.1v1.1h-1.1zM90.8 177.9h1.1v1.1h-1.1zM78.6 218.8h1.1v1.1h-1.1zM57.7 173.1h1.1v1.1h-1.1zM77.0 207.0h1.1v1.1h-1.1zM65.5 160.1h1.1v1.1h-1.1zM67.3 193.5h1.1v1.1h-1.1zM63.3 194.5h1.1v1.1h-1.1zM45.7 193.5h1.1v1.1h-1.1zM90.5 217.3h1.1v1.1h-1.1zM63.5 188.0h1.1v1.1h-1.1zM72.9 213.2h1.1v1.1h-1.1zM77.0 178.6h1.1v1.1h-1.1zM70.0 199.8h1.1v1.1h-1.1zM86.0 212.9h1.1v1.1h-1.1zM74.5 215.3h1.1v1.1h-1.1zM62.7 205.0h1.1v1.1h-1.1zM79.5 182.0h1.1v1.1h-1.1zM59.2 172.9h1.1v1.1h-1.1zM70.1 196.8h1.1v1.1h-1.1zM63.9 206.3h1.1v1.1h-1.1zM69.1 193.8h1.1v1.1h-1.1zM62.4 184.8h1.1v1.1h-1.1zM60.5 200.8h1.1v1.1h-1.1zM75.3 183.6h1.1v1.1h-1.1zM80.5 180.1h1.1v1.1h-1.1zM78.3 202.6h1.1v1.1h-1.1zM64.7 196.1h1.1v1.1h-1.1zM73.9 210.0h1.1v1.1h-1.1zM51.3 205.3h1.1v1.1h-1.1zM58.7 209.3h1.1v1.1h-1.1zM85.1 195.6h1.1v1.1h-1.1zM66.7 201.0h1.1v1.1h-1.1zM75.0 199.2h1.1v1.1h-1.1zM63.1 187.8h1.1v1.1h-1.1zM65.8 216.8h1.1v1.1h-1.1zM66.7 218.7h1.1v1.1h-1.1zM71.4 197.2h1.1v1.1h-1.1zM47.3 191.7h1.1v1.1h-1.1zM83.6 175.5h1.1v1.1h-1.1zM55.6 183.6h1.1v1.1h-1.1zM61.1 209.0h1.1v1.1h-1.1zM75.4 165.8h1.1v1.1h-1.1zM86.2 185.6h1.1v1.1h-1.1zM67.0 179.4h1.1v1.1h-1.1zM60.0 188.4h1.1v1.1h-1.1zM55.4 195.3h1.1v1.1h-1.1zM79.0 201.3h1.1v1.1h-1.1zM55.6 202.0h1.1v1.1h-1.1zM68.4 209.5h1.1v1.1h-1.1zM63.9 205.7h1.1v1.1h-1.1zM94.3 194.6h1.1v1.1h-1.1zM54.5 205.5h1.1v1.1h-1.1zM58.0 194.2h1.1v1.1h-1.1zM70.3 202.7h1.1v1.1h-1.1zM64.5 211.5h1.1v1.1h-1.1zM65.6 178.6h1.1v1.1h-1.1zM79.0 190.4h1.1v1.1h-1.1zM83.1 185.3h1.1v1.1h-1.1zM75.1 201.5h1.1v1.1h-1.1zM54.0 221.9h1.1v1.1h-1.1zM44.4 216.2h1.1v1.1h-1.1zM81.6 203.0h1.1v1.1h-1.1zM76.4 188.9h1.1v1.1h-1.1zM67.9 201.4h1.1v1.1h-1.1zM73.3 207.8h1.1v1.1h-1.1zM65.4 187.8h1.1v1.1h-1.1zM61.0 205.5h1.1v1.1h-1.1zM47.3 182.8h1.1v1.1h-1.1zM62.9 190.6h1.1v1.1h-1.1zM64.6 158.2h1.1v1.1h-1.1zM63.7 195.0h1.1v1.1h-1.1zM77.7 166.1h1.1v1.1h-1.1zM64.2 205.9h1.1v1.1h-1.1zM74.1 215.0h1.1v1.1h-1.1zM81.2 179.6h1.1v1.1h-1.1zM75.9 191.4h1.1v1.1h-1.1zM60.1 186.5h1.1v1.1h-1.1zM62.9 186.0h1.1v1.1h-1.1zM80.6 201.5h1.1v1.1h-1.1zM85.5 201.0h1.1v1.1h-1.1zM60.3 215.3h1.1v1.1h-1.1zM59.8 192.5h1.1v1.1h-1.1zM65.9 199.0h1.1v1.1h-1.1zM82.9 186.0h1.1v1.1h-1.1zM72.4 196.8h1.1v1.1h-1.1zM52.3 184.2h1.1v1.1h-1.1zM65.3 204.7h1.1v1.1h-1.1zM72.0 204.6h1.1v1.1h-1.1zM68.6 191.1h1.1v1.1h-1.1zM73.3 181.7h1.1v1.1h-1.1zM51.2 196.0h1.1v1.1h-1.1zM50.1 193.5h1.1v1.1h-1.1zM58.6 191.3h1.1v1.1h-1.1zM67.4 185.9h1.1v1.1h-1.1zM62.7 172.9h1.1v1.1h-1.1zM69.8 184.2h1.1v1.1h-1.1zM73.1 154.0h1.1v1.1h-1.1zM58.0 203.6h1.1v1.1h-1.1zM69.2 199.4h1.1v1.1h-1.1zM49.2 205.0h1.1v1.1h-1.1zM117.9 145.7h1.1v1.1h-1.1zM125.3 155.5h1.1v1.1h-1.1zM116.2 152.4h1.1v1.1h-1.1zM122.9 157.8h1.1v1.1h-1.1zM130.3 160.7h1.1v1.1h-1.1zM108.3 156.8h1.1v1.1h-1.1zM127.5 151.2h1.1v1.1h-1.1zM120.8 163.5h1.1v1.1h-1.1zM113.7 129.8h1.1v1.1h-1.1zM117.7 160.3h1.1v1.1h-1.1zM117.7 148.3h1.1v1.1h-1.1zM131.2 153.3h1.1v1.1h-1.1zM108.2 150.7h1.1v1.1h-1.1zM120.5 143.7h1.1v1.1h-1.1zM103.4 185.1h1.1v1.1h-1.1zM132.5 167.7h1.1v1.1h-1.1zM133.2 161.9h1.1v1.1h-1.1zM94.8 177.0h1.1v1.1h-1.1zM131.6 160.9h1.1v1.1h-1.1zM91.4 178.2h1.1v1.1h-1.1zM133.2 148.5h1.1v1.1h-1.1zM117.6 167.3h1.1v1.1h-1.1zM114.9 171.8h1.1v1.1h-1.1zM117.0 166.3h1.1v1.1h-1.1zM117.1 139.5h1.1v1.1h-1.1zM103.5 199.6h1.1v1.1h-1.1zM119.5 173.5h1.1v1.1h-1.1zM130.3 176.3h1.1v1.1h-1.1zM123.0 149.2h1.1v1.1h-1.1zM116.2 134.3h1.1v1.1h-1.1zM113.6 169.7h1.1v1.1h-1.1zM88.7 165.9h1.1v1.1h-1.1zM126.4 172.3h1.1v1.1h-1.1zM104.3 152.3h1.1v1.1h-1.1zM92.3 150.1h1.1v1.1h-1.1zM122.7 182.2h1.1v1.1h-1.1zM101.5 177.9h1.1v1.1h-1.1zM121.4 150.8h1.1v1.1h-1.1zM143.7 121.3h1.1v1.1h-1.1zM115.1 160.9h1.1v1.1h-1.1zM142.9 174.9h1.1v1.1h-1.1zM144.6 153.9h1.1v1.1h-1.1zM128.4 172.4h1.1v1.1h-1.1zM122.5 161.2h1.1v1.1h-1.1zM113.7 153.4h1.1v1.1h-1.1zM100.5 185.2h1.1v1.1h-1.1zM110.4 133.4h1.1v1.1h-1.1zM119.3 156.9h1.1v1.1h-1.1zM118.2 180.0h1.1v1.1h-1.1zM114.7 155.0h1.1v1.1h-1.1zM106.6 159.6h1.1v1.1h-1.1zM110.5 161.6h1.1v1.1h-1.1zM155.5 155.0h1.1v1.1h-1.1zM105.2 184.1h1.1v1.1h-1.1zM126.9 165.9h1.1v1.1h-1.1zM125.0 166.3h1.1v1.1h-1.1zM124.5 173.8h1.1v1.1h-1.1zM128.7 172.2h1.1v1.1h-1.1zM109.7 159.2h1.1v1.1h-1.1zM106.8 171.7h1.1v1.1h-1.1zM126.5 150.1h1.1v1.1h-1.1zM123.4 189.1h1.1v1.1h-1.1zM131.6 141.0h1.1v1.1h-1.1zM114.8 166.1h1.1v1.1h-1.1zM115.5 162.9h1.1v1.1h-1.1zM130.9 159.1h1.1v1.1h-1.1zM102.1 169.6h1.1v1.1h-1.1zM114.8 159.7h1.1v1.1h-1.1zM108.8 142.3h1.1v1.1h-1.1zM100.2 156.8h1.1v1.1h-1.1zM102.5 127.0h1.1v1.1h-1.1zM130.5 140.7h1.1v1.1h-1.1zM106.8 166.4h1.1v1.1h-1.1zM85.5 180.8h1.1v1.1h-1.1zM106.3 168.1h1.1v1.1h-1.1zM109.9 163.0h1.1v1.1h-1.1zM117.3 157.7h1.1v1.1h-1.1zM92.9 144.4h1.1v1.1h-1.1zM115.5 175.6h1.1v1.1h-1.1zM109.1 166.0h1.1v1.1h-1.1zM118.1 163.6h1.1v1.1h-1.1zM128.6 136.9h1.1v1.1h-1.1zM119.5 155.1h1.1v1.1h-1.1zM112.0 148.2h1.1v1.1h-1.1zM106.0 147.2h1.1v1.1h-1.1zM102.1 191.9h1.1v1.1h-1.1zM137.5 153.8h1.1v1.1h-1.1zM125.4 144.0h1.1v1.1h-1.1zM80.8 142.4h1.1v1.1h-1.1zM117.8 175.5h1.1v1.1h-1.1zM115.5 145.7h1.1v1.1h-1.1zM112.9 146.2h1.1v1.1h-1.1zM98.3 158.7h1.1v1.1h-1.1zM110.9 148.9h1.1v1.1h-1.1zM104.8 148.7h1.1v1.1h-1.1zM119.0 174.7h1.1v1.1h-1.1zM113.3 186.3h1.1v1.1h-1.1zM95.5 165.5h1.1v1.1h-1.1zM101.3 158.9h1.1v1.1h-1.1zM117.3 164.7h1.1v1.1h-1.1zM130.3 148.2h1.1v1.1h-1.1zM100.3 158.8h1.1v1.1h-1.1zM119.7 148.6h1.1v1.1h-1.1zM127.3 176.6h1.1v1.1h-1.1zM98.0 166.1h1.1v1.1h-1.1zM128.9 131.6h1.1v1.1h-1.1zM118.6 154.7h1.1v1.1h-1.1zM98.0 177.9h1.1v1.1h-1.1zM118.8 151.5h1.1v1.1h-1.1zM121.6 164.9h1.1v1.1h-1.1zM125.7 163.3h1.1v1.1h-1.1zM121.2 142.4h1.1v1.1h-1.1zM110.7 160.7h1.1v1.1h-1.1zM80.9 191.5h1.1v1.1h-1.1zM111.2 145.9h1.1v1.1h-1.1zM93.0 165.7h1.1v1.1h-1.1zM116.4 150.7h1.1v1.1h-1.1zM110.7 148.0h1.1v1.1h-1.1zM106.5 158.7h1.1v1.1h-1.1zM107.8 168.1h1.1v1.1h-1.1zM114.2 160.0h1.1v1.1h-1.1zM121.1 172.8h1.1v1.1h-1.1zM123.6 159.3h1.1v1.1h-1.1zM113.9 148.4h1.1v1.1h-1.1zM111.7 167.3h1.1v1.1h-1.1zM118.9 152.6h1.1v1.1h-1.1zM99.1 142.3h1.1v1.1h-1.1zM120.1 169.9h1.1v1.1h-1.1zM120.7 140.0h1.1v1.1h-1.1zM113.3 161.3h1.1v1.1h-1.1zM104.4 164.6h1.1v1.1h-1.1zM113.5 148.1h1.1v1.1h-1.1zM100.3 171.2h1.1v1.1h-1.1zM120.5 146.1h1.1v1.1h-1.1zM103.2 171.6h1.1v1.1h-1.1zM123.6 152.7h1.1v1.1h-1.1zM136.2 150.4h1.1v1.1h-1.1zM102.6 174.2h1.1v1.1h-1.1zM113.6 162.8h1.1v1.1h-1.1zM116.5 145.5h1.1v1.1h-1.1zM101.0 158.6h1.1v1.1h-1.1zM133.8 142.0h1.1v1.1h-1.1zM133.2 157.3h1.1v1.1h-1.1zM101.9 164.1h1.1v1.1h-1.1zM123.2 145.4h1.1v1.1h-1.1zM89.0 167.8h1.1v1.1h-1.1zM102.0 166.3h1.1v1.1h-1.1zM91.8 161.1h1.1v1.1h-1.1zM105.8 141.7h1.1v1.1h-1.1zM112.9 160.7h1.1v1.1h-1.1zM109.0 144.8h1.1v1.1h-1.1zM118.7 135.8h1.1v1.1h-1.1zM122.8 162.7h1.1v1.1h-1.1zM137.2 164.7h1.1v1.1h-1.1zM120.5 160.4h1.1v1.1h-1.1zM116.3 141.5h1.1v1.1h-1.1zM134.5 160.8h1.1v1.1h-1.1zM112.4 144.5h1.1v1.1h-1.1zM134.8 160.8h1.1v1.1h-1.1zM101.0 169.3h1.1v1.1h-1.1zM140.0 152.9h1.1v1.1h-1.1zM121.1 151.8h1.1v1.1h-1.1zM108.1 172.9h1.1v1.1h-1.1zM154.9 151.7h1.1v1.1h-1.1zM114.4 168.1h1.1v1.1h-1.1zM112.2 167.8h1.1v1.1h-1.1zM126.5 143.3h1.1v1.1h-1.1zM102.5 159.8h1.1v1.1h-1.1zM126.5 159.3h1.1v1.1h-1.1zM131.7 137.8h1.1v1.1h-1.1zM122.2 149.1h1.1v1.1h-1.1zM117.3 161.7h1.1v1.1h-1.1zM103.8 157.6h1.1v1.1h-1.1zM101.3 164.2h1.1v1.1h-1.1zM105.3 154.0h1.1v1.1h-1.1zM118.8 149.4h1.1v1.1h-1.1zM130.5 147.2h1.1v1.1h-1.1zM126.7 159.4h1.1v1.1h-1.1zM103.0 157.9h1.1v1.1h-1.1zM105.4 155.6h1.1v1.1h-1.1zM112.6 181.1h1.1v1.1h-1.1zM110.7 178.4h1.1v1.1h-1.1zM121.6 140.7h1.1v1.1h-1.1zM86.8 172.2h1.1v1.1h-1.1zM90.9 171.9h1.1v1.1h-1.1zM129.0 160.2h1.1v1.1h-1.1zM113.4 155.4h1.1v1.1h-1.1zM119.3 153.6h1.1v1.1h-1.1zM109.3 154.8h1.1v1.1h-1.1zM130.7 147.4h1.1v1.1h-1.1zM120.8 142.8h1.1v1.1h-1.1zM107.0 142.8h1.1v1.1h-1.1zM113.5 166.9h1.1v1.1h-1.1zM119.8 151.2h1.1v1.1h-1.1zM123.7 152.2h1.1v1.1h-1.1zM120.7 160.4h1.1v1.1h-1.1zM122.8 126.1h1.1v1.1h-1.1zM99.6 170.8h1.1v1.1h-1.1zM114.7 185.9h1.1v1.1h-1.1zM113.0 151.8h1.1v1.1h-1.1zM134.8 161.1h1.1v1.1h-1.1zM139.9 159.5h1.1v1.1h-1.1zM113.4 167.4h1.1v1.1h-1.1zM106.1 154.5h1.1v1.1h-1.1zM109.0 156.7h1.1v1.1h-1.1zM125.8 150.1h1.1v1.1h-1.1zM120.1 151.0h1.1v1.1h-1.1zM127.1 121.8h1.1v1.1h-1.1zM113.4 160.6h1.1v1.1h-1.1zM102.4 173.2h1.1v1.1h-1.1zM118.7 173.2h1.1v1.1h-1.1zM128.1 163.5h1.1v1.1h-1.1zM114.1 145.0h1.1v1.1h-1.1zM113.2 152.9h1.1v1.1h-1.1zM119.1 151.6h1.1v1.1h-1.1zM154.4 130.6h1.1v1.1h-1.1zM130.8 149.3h1.1v1.1h-1.1zM113.0 170.0h1.1v1.1h-1.1zM116.0 143.1h1.1v1.1h-1.1zM121.2 154.6h1.1v1.1h-1.1zM90.2 165.6h1.1v1.1h-1.1zM102.7 151.5h1.1v1.1h-1.1zM122.1 160.5h1.1v1.1h-1.1zM112.4 185.4h1.1v1.1h-1.1zM121.3 149.4h1.1v1.1h-1.1zM119.0 155.9h1.1v1.1h-1.1zM88.3 144.2h1.1v1.1h-1.1zM98.5 186.9h1.1v1.1h-1.1zM113.7 155.1h1.1v1.1h-1.1zM108.9 171.5h1.1v1.1h-1.1zM116.4 178.9h1.1v1.1h-1.1zM125.9 176.2h1.1v1.1h-1.1zM114.5 162.9h1.1v1.1h-1.1zM110.6 157.0h1.1v1.1h-1.1zM94.3 155.2h1.1v1.1h-1.1zM104.1 152.4h1.1v1.1h-1.1zM131.3 158.2h1.1v1.1h-1.1zM131.4 165.5h1.1v1.1h-1.1zM127.5 168.0h1.1v1.1h-1.1zM108.4 169.4h1.1v1.1h-1.1zM112.0 152.3h1.1v1.1h-1.1zM131.0 181.6h1.1v1.1h-1.1zM103.7 181.8h1.1v1.1h-1.1zM126.4 145.5h1.1v1.1h-1.1zM119.4 161.9h1.1v1.1h-1.1zM120.7 152.7h1.1v1.1h-1.1zM99.9 161.6h1.1v1.1h-1.1zM126.8 165.5h1.1v1.1h-1.1zM124.3 169.9h1.1v1.1h-1.1zM103.6 160.0h1.1v1.1h-1.1zM120.3 169.4h1.1v1.1h-1.1zM118.0 164.0h1.1v1.1h-1.1zM117.7 183.4h1.1v1.1h-1.1zM88.7 163.2h1.1v1.1h-1.1zM147.0 154.7h1.1v1.1h-1.1zM93.1 164.2h1.1v1.1h-1.1zM98.0 153.3h1.1v1.1h-1.1zM118.8 178.5h1.1v1.1h-1.1zM121.8 165.0h1.1v1.1h-1.1zM128.8 157.9h1.1v1.1h-1.1zM105.3 158.9h1.1v1.1h-1.1zM120.2 153.8h1.1v1.1h-1.1zM107.6 155.3h1.1v1.1h-1.1zM97.2 149.2h1.1v1.1h-1.1zM114.9 153.8h1.1v1.1h-1.1zM116.5 175.1h1.1v1.1h-1.1zM119.8 156.9h1.1v1.1h-1.1zM101.3 147.7h1.1v1.1h-1.1zM120.7 146.4h1.1v1.1h-1.1zM121.4 143.8h1.1v1.1h-1.1zM117.7 156.8h1.1v1.1h-1.1zM128.5 150.7h1.1v1.1h-1.1zM111.3 161.9h1.1v1.1h-1.1zM116.7 178.6h1.1v1.1h-1.1zM112.8 152.1h1.1v1.1h-1.1zM112.0 164.6h1.1v1.1h-1.1zM118.9 165.9h1.1v1.1h-1.1zM98.7 191.8h1.1v1.1h-1.1zM139.0 153.0h1.1v1.1h-1.1zM100.9 162.9h1.1v1.1h-1.1zM121.2 129.6h1.1v1.1h-1.1zM116.2 139.8h1.1v1.1h-1.1zM121.7 173.8h1.1v1.1h-1.1zM128.9 137.0h1.1v1.1h-1.1zM133.3 165.6h1.1v1.1h-1.1zM111.5 165.1h1.1v1.1h-1.1zM135.0 150.1h1.1v1.1h-1.1zM115.8 151.2h1.1v1.1h-1.1zM130.5 128.7h1.1v1.1h-1.1zM133.8 142.6h1.1v1.1h-1.1zM127.6 135.8h1.1v1.1h-1.1zM104.3 153.0h1.1v1.1h-1.1zM126.4 136.1h1.1v1.1h-1.1zM123.5 148.7h1.1v1.1h-1.1zM131.5 151.1h1.1v1.1h-1.1zM122.1 154.7h1.1v1.1h-1.1zM138.4 149.1h1.1v1.1h-1.1zM115.7 182.4h1.1v1.1h-1.1zM117.0 166.2h1.1v1.1h-1.1zM106.8 162.3h1.1v1.1h-1.1zM87.6 165.0h1.1v1.1h-1.1zM107.9 141.2h1.1v1.1h-1.1zM98.3 175.5h1.1v1.1h-1.1zM121.3 138.4h1.1v1.1h-1.1zM138.7 144.9h1.1v1.1h-1.1zM111.4 161.9h1.1v1.1h-1.1zM101.8 141.0h1.1v1.1h-1.1zM106.7 174.3h1.1v1.1h-1.1zM127.9 136.3h1.1v1.1h-1.1zM131.1 155.4h1.1v1.1h-1.1zM122.3 157.4h1.1v1.1h-1.1zM121.2 144.7h1.1v1.1h-1.1zM104.6 151.7h1.1v1.1h-1.1zM111.4 166.5h1.1v1.1h-1.1zM100.8 180.6h1.1v1.1h-1.1zM108.1 152.4h1.1v1.1h-1.1zM124.8 161.6h1.1v1.1h-1.1zM111.8 145.7h1.1v1.1h-1.1zM103.5 140.9h1.1v1.1h-1.1zM130.3 168.4h1.1v1.1h-1.1zM139.4 159.4h1.1v1.1h-1.1zM120.2 166.4h1.1v1.1h-1.1zM127.9 152.4h1.1v1.1h-1.1zM120.4 183.5h1.1v1.1h-1.1zM94.8 145.0h1.1v1.1h-1.1zM103.9 169.6h1.1v1.1h-1.1zM130.9 150.9h1.1v1.1h-1.1zM124.4 155.7h1.1v1.1h-1.1zM119.8 150.6h1.1v1.1h-1.1zM115.7 158.0h1.1v1.1h-1.1zM130.2 182.5h1.1v1.1h-1.1zM93.3 169.1h1.1v1.1h-1.1zM115.9 169.9h1.1v1.1h-1.1zM129.3 164.9h1.1v1.1h-1.1zM126.1 144.3h1.1v1.1h-1.1zM94.7 182.7h1.1v1.1h-1.1zM131.1 143.3h1.1v1.1h-1.1zM132.2 162.9h1.1v1.1h-1.1zM85.3 175.2h1.1v1.1h-1.1zM103.6 174.8h1.1v1.1h-1.1zM107.5 150.6h1.1v1.1h-1.1zM96.7 159.2h1.1v1.1h-1.1zM128.7 147.2h1.1v1.1h-1.1zM92.7 189.0h1.1v1.1h-1.1zM139.1 161.8h1.1v1.1h-1.1zM109.3 144.5h1.1v1.1h-1.1zM95.5 169.0h1.1v1.1h-1.1zM132.3 141.7h1.1v1.1h-1.1zM116.0 154.6h1.1v1.1h-1.1zM112.8 164.8h1.1v1.1h-1.1zM142.2 144.9h1.1v1.1h-1.1zM126.6 169.2h1.1v1.1h-1.1zM112.4 156.9h1.1v1.1h-1.1zM99.2 174.6h1.1v1.1h-1.1zM109.3 151.3h1.1v1.1h-1.1zM116.8 147.3h1.1v1.1h-1.1zM102.9 157.0h1.1v1.1h-1.1zM134.6 151.8h1.1v1.1h-1.1zM122.6 138.7h1.1v1.1h-1.1zM91.6 185.2h1.1v1.1h-1.1zM111.0 140.1h1.1v1.1h-1.1zM114.7 165.7h1.1v1.1h-1.1zM94.4 151.5h1.1v1.1h-1.1zM119.3 146.0h1.1v1.1h-1.1zM126.0 167.8h1.1v1.1h-1.1zM121.5 151.6h1.1v1.1h-1.1zM115.4 150.3h1.1v1.1h-1.1zM114.4 162.2h1.1v1.1h-1.1zM112.2 170.7h1.1v1.1h-1.1zM148.5 144.8h1.1v1.1h-1.1zM120.3 167.3h1.1v1.1h-1.1zM124.1 153.5h1.1v1.1h-1.1zM110.0 171.5h1.1v1.1h-1.1zM123.8 162.7h1.1v1.1h-1.1zM105.9 167.8h1.1v1.1h-1.1zM126.0 153.7h1.1v1.1h-1.1zM124.1 183.1h1.1v1.1h-1.1zM92.4 170.2h1.1v1.1h-1.1zM101.3 144.2h1.1v1.1h-1.1zM113.0 165.3h1.1v1.1h-1.1zM116.7 143.5h1.1v1.1h-1.1zM97.9 154.8h1.1v1.1h-1.1zM116.2 147.7h1.1v1.1h-1.1zM97.1 183.4h1.1v1.1h-1.1zM105.5 158.2h1.1v1.1h-1.1zM109.1 152.2h1.1v1.1h-1.1zM116.5 154.2h1.1v1.1h-1.1zM123.8 141.8h1.1v1.1h-1.1zM97.3 185.8h1.1v1.1h-1.1zM115.1 167.7h1.1v1.1h-1.1zM130.8 161.9h1.1v1.1h-1.1zM116.5 138.7h1.1v1.1h-1.1zM95.9 174.1h1.1v1.1h-1.1zM124.5 163.3h1.1v1.1h-1.1zM95.1 135.9h1.1v1.1h-1.1zM102.7 146.1h1.1v1.1h-1.1zM118.0 145.0h1.1v1.1h-1.1zM135.9 146.3h1.1v1.1h-1.1zM108.9 170.1h1.1v1.1h-1.1zM120.1 146.1h1.1v1.1h-1.1zM126.3 179.7h1.1v1.1h-1.1zM100.5 158.0h1.1v1.1h-1.1zM102.4 136.7h1.1v1.1h-1.1zM123.9 165.0h1.1v1.1h-1.1zM128.3 160.8h1.1v1.1h-1.1zM90.6 162.7h1.1v1.1h-1.1zM107.6 145.1h1.1v1.1h-1.1zM102.0 170.3h1.1v1.1h-1.1zM112.3 183.1h1.1v1.1h-1.1zM121.9 133.2h1.1v1.1h-1.1zM127.3 171.2h1.1v1.1h-1.1zM116.4 142.9h1.1v1.1h-1.1zM138.3 137.3h1.1v1.1h-1.1zM114.9 134.6h1.1v1.1h-1.1zM100.1 140.1h1.1v1.1h-1.1zM129.8 169.8h1.1v1.1h-1.1zM110.9 142.2h1.1v1.1h-1.1zM115.2 162.8h1.1v1.1h-1.1zM96.7 147.5h1.1v1.1h-1.1zM114.7 167.0h1.1v1.1h-1.1zM71.1 172.0h1.1v1.1h-1.1zM51.8 126.2h1.1v1.1h-1.1zM74.6 150.7h1.1v1.1h-1.1zM68.2 159.1h1.1v1.1h-1.1zM77.0 153.0h1.1v1.1h-1.1zM91.1 165.5h1.1v1.1h-1.1zM77.7 174.8h1.1v1.1h-1.1zM85.2 171.3h1.1v1.1h-1.1zM44.4 155.2h1.1v1.1h-1.1zM97.3 172.4h1.1v1.1h-1.1zM78.2 172.3h1.1v1.1h-1.1zM60.6 154.4h1.1v1.1h-1.1zM60.5 183.1h1.1v1.1h-1.1zM75.3 192.8h1.1v1.1h-1.1zM77.3 194.6h1.1v1.1h-1.1zM76.7 146.5h1.1v1.1h-1.1zM95.6 170.3h1.1v1.1h-1.1zM87.5 168.4h1.1v1.1h-1.1zM65.2 167.7h1.1v1.1h-1.1zM53.5 146.3h1.1v1.1h-1.1zM56.9 156.8h1.1v1.1h-1.1zM50.1 163.4h1.1v1.1h-1.1zM74.5 196.8h1.1v1.1h-1.1zM97.1 164.2h1.1v1.1h-1.1zM83.0 161.6h1.1v1.1h-1.1zM75.8 164.5h1.1v1.1h-1.1zM62.0 166.2h1.1v1.1h-1.1zM48.2 171.9h1.1v1.1h-1.1zM65.7 148.0h1.1v1.1h-1.1zM64.7 173.7h1.1v1.1h-1.1zM60.0 172.5h1.1v1.1h-1.1zM78.4 189.5h1.1v1.1h-1.1zM54.0 163.3h1.1v1.1h-1.1zM77.6 188.6h1.1v1.1h-1.1zM73.9 176.9h1.1v1.1h-1.1zM48.3 155.8h1.1v1.1h-1.1zM94.5 160.5h1.1v1.1h-1.1zM101.9 153.5h1.1v1.1h-1.1zM65.9 139.9h1.1v1.1h-1.1zM79.4 169.2h1.1v1.1h-1.1zM99.8 167.6h1.1v1.1h-1.1zM66.3 142.8h1.1v1.1h-1.1zM68.8 179.9h1.1v1.1h-1.1zM81.0 184.4h1.1v1.1h-1.1zM82.8 164.3h1.1v1.1h-1.1zM79.0 167.7h1.1v1.1h-1.1zM50.3 192.0h1.1v1.1h-1.1zM75.5 148.4h1.1v1.1h-1.1zM75.7 169.6h1.1v1.1h-1.1zM84.8 187.8h1.1v1.1h-1.1zM92.7 150.0h1.1v1.1h-1.1zM75.0 170.5h1.1v1.1h-1.1zM53.5 157.6h1.1v1.1h-1.1zM72.9 176.8h1.1v1.1h-1.1zM102.5 169.7h1.1v1.1h-1.1zM61.1 127.6h1.1v1.1h-1.1zM86.0 162.9h1.1v1.1h-1.1zM68.4 149.3h1.1v1.1h-1.1zM80.9 136.6h1.1v1.1h-1.1zM71.6 166.9h1.1v1.1h-1.1zM74.5 185.7h1.1v1.1h-1.1zM68.5 166.5h1.1v1.1h-1.1zM82.7 140.4h1.1v1.1h-1.1zM65.7 166.1h1.1v1.1h-1.1zM84.2 152.3h1.1v1.1h-1.1zM82.0 171.1h1.1v1.1h-1.1zM47.9 141.5h1.1v1.1h-1.1zM48.7 167.2h1.1v1.1h-1.1zM73.1 176.5h1.1v1.1h-1.1zM82.2 156.2h1.1v1.1h-1.1zM85.9 178.0h1.1v1.1h-1.1zM77.0 172.6h1.1v1.1h-1.1zM50.8 170.7h1.1v1.1h-1.1zM54.6 146.1h1.1v1.1h-1.1zM64.8 167.2h1.1v1.1h-1.1zM69.2 159.7h1.1v1.1h-1.1zM55.1 168.0h1.1v1.1h-1.1zM59.0 142.6h1.1v1.1h-1.1zM71.4 188.1h1.1v1.1h-1.1zM64.0 148.1h1.1v1.1h-1.1zM90.7 192.2h1.1v1.1h-1.1zM65.6 161.6h1.1v1.1h-1.1zM73.2 212.0h1.1v1.1h-1.1zM72.0 180.8h1.1v1.1h-1.1zM76.6 136.0h1.1v1.1h-1.1zM53.6 145.4h1.1v1.1h-1.1zM76.5 166.7h1.1v1.1h-1.1zM96.7 160.7h1.1v1.1h-1.1zM74.6 166.2h1.1v1.1h-1.1zM72.1 201.9h1.1v1.1h-1.1zM74.3 188.5h1.1v1.1h-1.1zM89.4 155.3h1.1v1.1h-1.1zM80.2 158.9h1.1v1.1h-1.1zM71.6 167.5h1.1v1.1h-1.1zM70.3 157.5h1.1v1.1h-1.1zM93.3 160.8h1.1v1.1h-1.1zM80.5 191.8h1.1v1.1h-1.1zM79.4 181.4h1.1v1.1h-1.1zM90.8 182.4h1.1v1.1h-1.1zM95.7 142.2h1.1v1.1h-1.1zM99.3 165.4h1.1v1.1h-1.1zM43.9 154.8h1.1v1.1h-1.1zM49.1 164.7h1.1v1.1h-1.1zM47.7 148.9h1.1v1.1h-1.1zM74.4 167.5h1.1v1.1h-1.1zM58.1 161.3h1.1v1.1h-1.1zM68.5 166.2h1.1v1.1h-1.1zM69.9 161.5h1.1v1.1h-1.1zM83.2 139.4h1.1v1.1h-1.1zM62.6 167.1h1.1v1.1h-1.1zM64.0 156.2h1.1v1.1h-1.1zM63.5 168.3h1.1v1.1h-1.1zM88.6 162.0h1.1v1.1h-1.1zM66.0 170.7h1.1v1.1h-1.1zM66.4 134.1h1.1v1.1h-1.1zM74.0 159.0h1.1v1.1h-1.1zM61.4 175.0h1.1v1.1h-1.1zM70.7 156.0h1.1v1.1h-1.1zM70.2 163.1h1.1v1.1h-1.1zM76.6 168.6h1.1v1.1h-1.1zM62.8 144.8h1.1v1.1h-1.1zM53.6 162.8h1.1v1.1h-1.1zM52.8 177.1h1.1v1.1h-1.1zM50.1 136.3h1.1v1.1h-1.1zM67.1 136.6h1.1v1.1h-1.1zM94.4 149.1h1.1v1.1h-1.1zM69.2 161.1h1.1v1.1h-1.1zM57.7 136.7h1.1v1.1h-1.1zM85.3 199.6h1.1v1.1h-1.1zM48.1 174.0h1.1v1.1h-1.1zM69.8 178.5h1.1v1.1h-1.1zM62.3 176.5h1.1v1.1h-1.1zM83.4 174.7h1.1v1.1h-1.1zM91.7 162.2h1.1v1.1h-1.1zM93.2 153.8h1.1v1.1h-1.1zM95.0 121.1h1.1v1.1h-1.1zM70.2 152.2h1.1v1.1h-1.1zM70.0 181.5h1.1v1.1h-1.1zM80.8 166.5h1.1v1.1h-1.1zM95.5 141.4h1.1v1.1h-1.1zM57.8 189.2h1.1v1.1h-1.1zM74.9 131.8h1.1v1.1h-1.1zM75.1 146.1h1.1v1.1h-1.1zM92.2 183.3h1.1v1.1h-1.1zM61.8 185.7h1.1v1.1h-1.1zM57.5 179.7h1.1v1.1h-1.1zM78.7 163.0h1.1v1.1h-1.1zM48.7 160.5h1.1v1.1h-1.1zM55.5 126.1h1.1v1.1h-1.1zM78.8 170.9h1.1v1.1h-1.1zM62.4 198.9h1.1v1.1h-1.1zM81.6 166.1h1.1v1.1h-1.1zM60.3 117.7h1.1v1.1h-1.1zM77.2 180.4h1.1v1.1h-1.1zM61.1 142.4h1.1v1.1h-1.1zM69.4 138.2h1.1v1.1h-1.1zM70.1 177.3h1.1v1.1h-1.1zM92.6 169.2h1.1v1.1h-1.1zM72.9 177.0h1.1v1.1h-1.1zM91.0 159.9h1.1v1.1h-1.1zM51.6 152.3h1.1v1.1h-1.1zM51.1 150.8h1.1v1.1h-1.1zM68.2 170.5h1.1v1.1h-1.1zM72.3 166.1h1.1v1.1h-1.1zM64.6 171.8h1.1v1.1h-1.1zM83.3 177.2h1.1v1.1h-1.1zM92.5 160.4h1.1v1.1h-1.1zM66.2 192.1h1.1v1.1h-1.1zM73.0 171.6h1.1v1.1h-1.1zM65.0 180.5h1.1v1.1h-1.1zM64.0 148.9h1.1v1.1h-1.1zM69.1 157.9h1.1v1.1h-1.1zM82.5 159.0h1.1v1.1h-1.1zM71.9 161.5h1.1v1.1h-1.1zM75.1 154.9h1.1v1.1h-1.1zM86.6 142.2h1.1v1.1h-1.1zM64.2 153.7h1.1v1.1h-1.1zM79.7 165.6h1.1v1.1h-1.1zM77.3 159.7h1.1v1.1h-1.1zM59.2 147.1h1.1v1.1h-1.1zM65.0 156.4h1.1v1.1h-1.1zM74.2 170.7h1.1v1.1h-1.1zM84.7 163.3h1.1v1.1h-1.1zM58.8 148.0h1.1v1.1h-1.1zM70.9 170.8h1.1v1.1h-1.1zM99.2 167.9h1.1v1.1h-1.1zM96.4 195.0h1.1v1.1h-1.1zM54.3 184.4h1.1v1.1h-1.1zM87.0 186.5h1.1v1.1h-1.1zM69.9 180.3h1.1v1.1h-1.1zM62.8 163.9h1.1v1.1h-1.1zM70.3 193.5h1.1v1.1h-1.1zM66.8 180.3h1.1v1.1h-1.1zM71.0 153.7h1.1v1.1h-1.1zM73.6 175.6h1.1v1.1h-1.1zM59.3 175.1h1.1v1.1h-1.1zM59.3 151.0h1.1v1.1h-1.1zM73.3 161.2h1.1v1.1h-1.1zM55.3 138.9h1.1v1.1h-1.1zM70.3 168.9h1.1v1.1h-1.1zM63.1 168.0h1.1v1.1h-1.1zM47.1 171.3h1.1v1.1h-1.1zM76.2 169.4h1.1v1.1h-1.1zM60.8 166.3h1.1v1.1h-1.1zM72.0 182.1h1.1v1.1h-1.1zM74.1 169.1h1.1v1.1h-1.1zM59.1 178.8h1.1v1.1h-1.1zM87.6 157.1h1.1v1.1h-1.1zM79.6 169.9h1.1v1.1h-1.1zM69.3 144.4h1.1v1.1h-1.1zM96.3 135.2h1.1v1.1h-1.1zM74.5 159.0h1.1v1.1h-1.1zM87.2 158.2h1.1v1.1h-1.1zM70.6 174.8h1.1v1.1h-1.1zM76.8 156.7h1.1v1.1h-1.1zM80.2 171.3h1.1v1.1h-1.1zM84.8 156.8h1.1v1.1h-1.1zM69.3 158.8h1.1v1.1h-1.1zM57.4 169.1h1.1v1.1h-1.1zM76.1 187.7h1.1v1.1h-1.1zM65.1 171.2h1.1v1.1h-1.1zM87.1 163.2h1.1v1.1h-1.1zM70.9 167.1h1.1v1.1h-1.1zM59.7 149.2h1.1v1.1h-1.1zM86.7 167.8h1.1v1.1h-1.1zM68.9 145.2h1.1v1.1h-1.1zM71.8 183.7h1.1v1.1h-1.1zM52.8 150.8h1.1v1.1h-1.1zM86.6 187.8h1.1v1.1h-1.1zM93.2 156.2h1.1v1.1h-1.1zM79.0 153.0h1.1v1.1h-1.1zM77.8 159.2h1.1v1.1h-1.1zM72.9 186.4h1.1v1.1h-1.1zM75.1 161.2h1.1v1.1h-1.1zM70.8 169.2h1.1v1.1h-1.1zM62.3 168.3h1.1v1.1h-1.1zM79.0 189.8h1.1v1.1h-1.1zM51.5 178.9h1.1v1.1h-1.1zM106.4 168.1h1.1v1.1h-1.1zM71.8 183.1h1.1v1.1h-1.1zM62.4 157.3h1.1v1.1h-1.1zM75.1 155.7h1.1v1.1h-1.1zM86.6 165.0h1.1v1.1h-1.1zM75.7 205.3h1.1v1.1h-1.1zM63.3 179.7h1.1v1.1h-1.1zM57.7 184.8h1.1v1.1h-1.1zM84.4 167.2h1.1v1.1h-1.1zM84.8 190.6h1.1v1.1h-1.1zM90.5 165.0h1.1v1.1h-1.1zM69.2 182.6h1.1v1.1h-1.1zM48.1 155.4h1.1v1.1h-1.1zM77.2 174.0h1.1v1.1h-1.1zM97.7 192.9h1.1v1.1h-1.1zM74.8 172.0h1.1v1.1h-1.1zM50.4 162.1h1.1v1.1h-1.1zM73.9 161.4h1.1v1.1h-1.1zM70.9 174.6h1.1v1.1h-1.1zM55.9 156.0h1.1v1.1h-1.1zM43.6 183.1h1.1v1.1h-1.1zM54.3 138.0h1.1v1.1h-1.1zM81.4 161.6h1.1v1.1h-1.1zM84.3 159.2h1.1v1.1h-1.1zM101.6 176.3h1.1v1.1h-1.1zM72.2 166.8h1.1v1.1h-1.1zM66.9 177.8h1.1v1.1h-1.1zM99.7 158.3h1.1v1.1h-1.1zM53.9 174.5h1.1v1.1h-1.1zM85.8 141.4h1.1v1.1h-1.1zM59.7 149.2h1.1v1.1h-1.1zM78.3 173.0h1.1v1.1h-1.1zM59.1 147.2h1.1v1.1h-1.1zM80.1 132.5h1.1v1.1h-1.1zM79.5 162.5h1.1v1.1h-1.1zM98.4 180.7h1.1v1.1h-1.1zM61.4 160.7h1.1v1.1h-1.1zM65.9 153.5h1.1v1.1h-1.1zM71.2 180.2h1.1v1.1h-1.1zM47.7 161.4h1.1v1.1h-1.1zM92.1 176.7h1.1v1.1h-1.1zM58.0 152.3h1.1v1.1h-1.1zM57.4 139.7h1.1v1.1h-1.1zM87.0 166.1h1.1v1.1h-1.1zM59.7 142.4h1.1v1.1h-1.1zM64.3 156.9h1.1v1.1h-1.1zM95.4 157.8h1.1v1.1h-1.1zM71.7 181.9h1.1v1.1h-1.1zM79.9 162.2h1.1v1.1h-1.1zM78.8 158.2h1.1v1.1h-1.1zM68.7 150.0h1.1v1.1h-1.1zM56.7 141.6h1.1v1.1h-1.1zM77.4 173.2h1.1v1.1h-1.1zM72.6 177.3h1.1v1.1h-1.1zM77.9 166.9h1.1v1.1h-1.1zM57.0 174.3h1.1v1.1h-1.1zM87.5 174.9h1.1v1.1h-1.1zM88.4 157.6h1.1v1.1h-1.1zM55.6 184.7h1.1v1.1h-1.1zM61.4 168.8h1.1v1.1h-1.1zM67.2 165.3h1.1v1.1h-1.1zM66.0 156.5h1.1v1.1h-1.1zM43.7 194.9h1.1v1.1h-1.1zM73.0 134.8h1.1v1.1h-1.1zM56.6 147.3h1.1v1.1h-1.1zM59.1 125.0h1.1v1.1h-1.1zM78.5 190.7h1.1v1.1h-1.1zM66.4 176.7h1.1v1.1h-1.1zM78.8 145.5h1.1v1.1h-1.1zM87.9 138.6h1.1v1.1h-1.1zM61.5 159.4h1.1v1.1h-1.1zM88.5 166.9h1.1v1.1h-1.1zM68.2 152.4h1.1v1.1h-1.1zM71.3 165.7h1.1v1.1h-1.1zM80.7 186.9h1.1v1.1h-1.1zM80.8 165.3h1.1v1.1h-1.1zM67.8 190.1h1.1v1.1h-1.1zM73.0 164.7h1.1v1.1h-1.1zM96.4 189.6h1.1v1.1h-1.1zM78.4 163.3h1.1v1.1h-1.1zM60.7 181.7h1.1v1.1h-1.1zM63.3 180.0h1.1v1.1h-1.1zM58.5 166.6h1.1v1.1h-1.1zM75.9 167.3h1.1v1.1h-1.1zM73.4 171.0h1.1v1.1h-1.1zM53.5 147.6h1.1v1.1h-1.1zM67.8 193.2h1.1v1.1h-1.1zM68.2 150.5h1.1v1.1h-1.1zM60.3 165.5h1.1v1.1h-1.1zM87.3 156.1h1.1v1.1h-1.1zM78.2 167.9h1.1v1.1h-1.1zM64.8 150.2h1.1v1.1h-1.1zM103.8 192.3h1.1v1.1h-1.1zM109.2 184.2h1.1v1.1h-1.1zM113.8 203.9h1.1v1.1h-1.1zM109.5 209.7h1.1v1.1h-1.1zM109.7 184.6h1.1v1.1h-1.1zM105.4 201.5h1.1v1.1h-1.1zM99.7 189.2h1.1v1.1h-1.1zM108.4 202.0h1.1v1.1h-1.1zM101.7 196.1h1.1v1.1h-1.1zM101.0 193.6h1.1v1.1h-1.1zM104.6 206.4h1.1v1.1h-1.1zM92.4 195.3h1.1v1.1h-1.1zM117.6 200.5h1.1v1.1h-1.1zM106.2 204.5h1.1v1.1h-1.1zM97.2 188.6h1.1v1.1h-1.1zM92.1 186.6h1.1v1.1h-1.1zM106.9 204.6h1.1v1.1h-1.1zM101.8 192.7h1.1v1.1h-1.1zM108.2 202.8h1.1v1.1h-1.1zM107.0 183.1h1.1v1.1h-1.1zM100.8 178.3h1.1v1.1h-1.1zM106.9 191.4h1.1v1.1h-1.1zM99.9 209.7h1.1v1.1h-1.1zM115.3 201.8h1.1v1.1h-1.1zM107.2 199.3h1.1v1.1h-1.1zM100.4 197.6h1.1v1.1h-1.1zM119.9 191.2h1.1v1.1h-1.1zM99.8 199.3h1.1v1.1h-1.1zM112.0 204.5h1.1v1.1h-1.1zM97.5 197.0h1.1v1.1h-1.1zM78.6 104.0h1.1v1.1h-1.1zM86.9 126.0h1.1v1.1h-1.1zM107.4 152.6h1.1v1.1h-1.1zM66.0 142.4h1.1v1.1h-1.1zM76.3 121.5h1.1v1.1h-1.1zM73.2 171.1h1.1v1.1h-1.1zM74.9 90.0h1.1v1.1h-1.1zM66.2 163.6h1.1v1.1h-1.1zM137.3 109.3h1.1v1.1h-1.1zM76.4 130.4h1.1v1.1h-1.1zM50.8 151.7h1.1v1.1h-1.1zM83.8 148.1h1.1v1.1h-1.1zM139.4 132.2h1.1v1.1h-1.1zM104.3 164.3h1.1v1.1h-1.1zM69.5 122.7h1.1v1.1h-1.1zM122.9 160.9h1.1v1.1h-1.1zM88.5 108.1h1.1v1.1h-1.1zM106.5 155.4h1.1v1.1h-1.1zM138.4 183.0h1.1v1.1h-1.1zM104.5 147.8h1.1v1.1h-1.1zM86.5 123.9h1.1v1.1h-1.1zM92.5 147.1h1.1v1.1h-1.1zM100.8 171.7h1.1v1.1h-1.1zM92.6 124.2h1.1v1.1h-1.1zM104.6 185.3h1.1v1.1h-1.1z" fill="#444"/>
<line x1="93.5" y1="70.4" x2="93.5" y2="223" stroke="#555" stroke-width="1"/>
<line x1="41.5" y1="183.5" x2="214" y2="183.5" stroke="#555" stroke-width="1"/>
<path d="M41.5 211.3h-1.5 M41.5 204.5h-1.5 M41.5 199.7h-1.5 M41.5 195.9h-1.5 M41.5 192.8h-1.5 M41.5 190.3h-1.5 M41.5 188.0h-1.5 M41.5 186.0h-1.5 M41.5 172.6h-1.5 M41.5 165.8h-1.5 M41.5 160.9h-1.5 M41.5 157.2h-1.5 M41.5 154.1h-1.5 M41.5 151.5h-1.5 M41.5 149.3h-1.5 M41.5 147.3h-1.5 M41.5 133.8h-1.5 M41.5 127.0h-1.5 M41.5 122.2h-1.5 M41.5 118.4h-1.5 M41.5 115.3h-1.5 M41.5 112.8h-1.5 M41.5 110.5h-1.5 M41.5 108.5h-1.5 M41.5 95.1h-1.5 M41.5 88.3h-1.5 M41.5 83.4h-1.5 M41.5 79.7h-1.5 M41.5 76.6h-1.5 M41.5 74.0h-1.5 M41.5 71.8h-1.5 M41.5 69.8h-1.5 M54.5 223v1.5 M62.1 223v1.5 M67.4 223v1.5 M71.6 223v1.5 M75.0 223v1.5 M77.9 223v1.5 M80.4 223v1.5 M82.6 223v1.5 M97.6 223v1.5 M105.2 223v1.5 M110.5 223v1.5 M114.7 223v1.5 M118.1 223v1.5 M121.0 223v1.5 M123.5 223v1.5 M125.7 223v1.5 M140.7 223v1.5 M148.3 223v1.5 M153.6 223v1.5 M157.8 223v1.5 M161.2 223v1.5 M164.1 223v1.5 M166.6 223v1.5 M168.8 223v1.5 M183.8 223v1.5 M191.4 223v1.5 M196.7 223v1.5 M200.9 223v1.5 M204.3 223v1.5 M207.2 223v1.5 M209.7 223v1.5 M211.9 223v1.5" stroke="#444" stroke-width="1"/>
<text transform="translate(38.5 216) rotate(-90)" font-family="Liberation Serif, serif" font-size="8" font-weight="bold" text-anchor="middle" style="fill:#222">10<tspan font-size="5.5" dy="-3">0</tspan></text>
<text transform="translate(38.5 186) rotate(-90)" font-family="Liberation Serif, serif" font-size="8" font-weight="bold" text-anchor="middle" style="fill:#222">10<tspan font-size="5.5" dy="-3">1</tspan></text>
<text transform="translate(38.5 146.5) rotate(-90)" font-family="Liberation Serif, serif" font-size="8" font-weight="bold" text-anchor="middle" style="fill:#222">10<tspan font-size="5.5" dy="-3">2</tspan></text>
<text transform="translate(38.5 106.5) rotate(-90)" font-family="Liberation Serif, serif" font-size="8" font-weight="bold" text-anchor="middle" style="fill:#222">10<tspan font-size="5.5" dy="-3">3</tspan></text>
<text transform="translate(38.5 71) rotate(-90)" font-family="Liberation Serif, serif" font-size="8" font-weight="bold" text-anchor="middle" style="fill:#222">10<tspan font-size="5.5" dy="-3">4</tspan></text>
<text x="42" y="230.5" font-family="Liberation Serif, serif" font-size="8" font-weight="bold" text-anchor="middle" style="fill:#222">10<tspan font-size="5.5" dy="-3">0</tspan></text>
<text x="86" y="230.5" font-family="Liberation Serif, serif" font-size="8" font-weight="bold" text-anchor="middle" style="fill:#222">10<tspan font-size="5.5" dy="-3">1</tspan></text>
<text x="130" y="230.5" font-family="Liberation Serif, serif" font-size="8" font-weight="bold" text-anchor="middle" style="fill:#222">10<tspan font-size="5.5" dy="-3">2</tspan></text>
<text x="174" y="230.5" font-family="Liberation Serif, serif" font-size="8" font-weight="bold" text-anchor="middle" style="fill:#222">10<tspan font-size="5.5" dy="-3">3</tspan></text>
<text x="213" y="230.5" font-family="Liberation Serif, serif" font-size="8" font-weight="bold" text-anchor="middle" style="fill:#222">10<tspan font-size="5.5" dy="-3">4</tspan></text>
<path d="M45 232.5h5M52 232.5h3M60 232.5h2M67 232.5h3M75 232.5h4M83 232.5h2M92 232.5h2M100 232.5h2" stroke="#ddd" stroke-width="1.3"/>
<text transform="translate(13.8 146.1) rotate(-90) scale(0.96 1.1)" font-family="Liberation Sans, sans-serif" font-size="15.5" text-anchor="middle" stroke="#111" stroke-width="0.45">HEMCAM</text>
<text x="130.3" y="278.8" font-family="Liberation Sans, sans-serif" font-size="17" font-weight="normal" text-anchor="middle" letter-spacing="0.9" stroke="#111" stroke-width="0.45">c-kit</text>
<text x="306.7" y="29.2" font-family="Liberation Sans, sans-serif" font-size="38" font-weight="bold" text-anchor="start" stroke="#111" stroke-width="0.8">C</text>
<rect x="307.3" y="45.3" width="201.7" height="204.3" fill="none" stroke="#111" stroke-width="1.5"/>
<path d="M301.5 45.3h6.2M301.5 148h6.2M301.5 249.6h6.2" stroke="#111" stroke-width="1.5"/>
<path d="M301.5 201.5H359.5V272" fill="none" stroke="#111" stroke-width="1.1"/>
<path d="M308.2 249.6v5.5 M348.4 249.6v5.5 M388.6 249.6v5.5 M428.8 249.6v5.5 M469 249.6v5.5 M509.2 249.6v5.5" stroke="#111" stroke-width="1.5"/>
<text x="297" y="50.2" font-family="Liberation Sans, sans-serif" font-size="14" font-weight="bold" text-anchor="end"  stroke="#111" stroke-width="0.3">1</text>
<text x="296" y="153" font-family="Liberation Sans, sans-serif" font-size="14" font-weight="bold" text-anchor="end"  stroke="#111" stroke-width="0.3">10</text>
<text x="295.5" y="205.4" font-family="Liberation Sans, sans-serif" font-size="14" font-weight="bold" text-anchor="end"  stroke="#111" stroke-width="0.3">37</text>
<text x="295" y="255" font-family="Liberation Sans, sans-serif" font-size="14" font-weight="bold" text-anchor="end"  stroke="#111" stroke-width="0.3">100</text>
<text x="308.2" y="270" font-family="Liberation Sans, sans-serif" font-size="14" font-weight="bold" text-anchor="middle"  stroke="#111" stroke-width="0.3">0</text>
<text x="348.4" y="270" font-family="Liberation Sans, sans-serif" font-size="14" font-weight="bold" text-anchor="middle"  stroke="#111" stroke-width="0.3">20</text>
<text x="388.6" y="270" font-family="Liberation Sans, sans-serif" font-size="14" font-weight="bold" text-anchor="middle"  stroke="#111" stroke-width="0.3">40</text>
<text x="428.8" y="270" font-family="Liberation Sans, sans-serif" font-size="14" font-weight="bold" text-anchor="middle"  stroke="#111" stroke-width="0.3">60</text>
<text x="469" y="270" font-family="Liberation Sans, sans-serif" font-size="14" font-weight="bold" text-anchor="middle"  stroke="#111" stroke-width="0.3">80</text>
<text x="509.2" y="270" font-family="Liberation Sans, sans-serif" font-size="14" font-weight="bold" text-anchor="middle"  stroke="#111" stroke-width="0.3">100</text>
<text x="358.5" y="285.5" font-family="Liberation Sans, sans-serif" font-size="14" font-weight="bold" text-anchor="middle"  stroke="#111" stroke-width="0.3">25</text>
<polyline points="307.7,249.4 331.6,226.2 348.3,211 388.8,173" fill="none" stroke="#111" stroke-width="2.6"/>
<rect x="326.6" y="221.2" width="10" height="10" fill="#fff" stroke="#111" stroke-width="2"/>
<rect x="343.3" y="206" width="10" height="10" fill="#fff" stroke="#111" stroke-width="2"/>
<rect x="383.8" y="168" width="10" height="10" fill="#fff" stroke="#111" stroke-width="2"/>
<text x="432" y="206.5" font-family="Liberation Sans, sans-serif" font-size="14" font-weight="bold" text-anchor="start"  stroke="#111" stroke-width="0.3">f= 0.04</text>
<text transform="translate(259.8 123.8) rotate(-90)" font-family="Liberation Sans, sans-serif" font-size="14.4" font-weight="bold" text-anchor="middle" stroke="#111" stroke-width="0.3">% negative animals</text>
<line x1="256.7" y1="199" x2="256.7" y2="230" stroke="#111" stroke-width="2"/>
<path d="M252.7 226L260.7 226L256.7 243.5Z" fill="#111"/>
<text x="297" y="306.3" font-family="Liberation Sans, sans-serif" font-size="14.2" font-weight="bold" stroke="#111" stroke-width="0.3">HEMCAM<tspan font-size="11.8" dy="-3">+</tspan><tspan dy="3">c-kit</tspan><tspan font-size="11.8" dy="-3">+</tspan><tspan dy="3"> transferred cells</tspan></text>
<text x="32.7" y="401.5" font-family="Liberation Sans, sans-serif" font-size="38" font-weight="bold" text-anchor="start" stroke="#111" stroke-width="0.8">B</text>
<path d="M153.5 421.8V625.6 M237.5 421.8V625.6 M320.5 421.8V625.6 M403.5 421.8V625.6" stroke="#111" stroke-width="1"/>
<rect x="69.5" y="421.8" width="414.7" height="198.8" fill="none" stroke="#111" stroke-width="1.8"/>
<path d="M69.5 620.6h-5.8 M69.5 600.8h-5.8 M69.5 580.9h-5.8 M69.5 561.1h-5.8 M69.5 541.2h-5.8 M69.5 521.4h-5.8 M69.5 501.6h-5.8 M69.5 481.7h-5.8 M69.5 461.9h-5.8 M69.5 442.0h-5.8 M69.5 422.2h-5.8" stroke="#111" stroke-width="1.5"/>
<path d="M69.5 620.6V625.6M484.2 620.6V625.6" stroke="#111" stroke-width="1.5"/>
<text x="61.5" y="624.6" font-family="Liberation Serif, serif" font-size="12.5" font-weight="bold" text-anchor="end" letter-spacing="0.4">0</text>
<text x="61.5" y="604.76" font-family="Liberation Serif, serif" font-size="12.5" font-weight="bold" text-anchor="end" letter-spacing="0.4">10</text>
<text x="61.5" y="584.9200000000001" font-family="Liberation Serif, serif" font-size="12.5" font-weight="bold" text-anchor="end" letter-spacing="0.4">20</text>
<text x="61.5" y="565.08" font-family="Liberation Serif, serif" font-size="12.5" font-weight="bold" text-anchor="end" letter-spacing="0.4">30</text>
<text x="61.5" y="545.24" font-family="Liberation Serif, serif" font-size="12.5" font-weight="bold" text-anchor="end" letter-spacing="0.4">40</text>
<text x="61.5" y="525.4" font-family="Liberation Serif, serif" font-size="12.5" font-weight="bold" text-anchor="end" letter-spacing="0.4">50</text>
<text x="61.5" y="505.56000000000006" font-family="Liberation Serif, serif" font-size="12.5" font-weight="bold" text-anchor="end" letter-spacing="0.4">60</text>
<text x="61.5" y="485.72" font-family="Liberation Serif, serif" font-size="12.5" font-weight="bold" text-anchor="end" letter-spacing="0.4">70</text>
<text x="61.5" y="465.88" font-family="Liberation Serif, serif" font-size="12.5" font-weight="bold" text-anchor="end" letter-spacing="0.4">80</text>
<text x="61.5" y="446.04" font-family="Liberation Serif, serif" font-size="12.5" font-weight="bold" text-anchor="end" letter-spacing="0.4">90</text>
<text x="61.5" y="426.20000000000005" font-family="Liberation Serif, serif" font-size="12.5" font-weight="bold" text-anchor="end" letter-spacing="0.4">100</text>
<text transform="translate(78.8 630.3) rotate(-90)" font-family="Liberation Serif, serif" font-size="13" font-weight="bold" text-anchor="end" letter-spacing="-0.1">10</text>
<text transform="translate(162.7 630.3) rotate(-90)" font-family="Liberation Serif, serif" font-size="13" font-weight="bold" text-anchor="end" letter-spacing="-0.1">100</text>
<text transform="translate(246.7 630.3) rotate(-90)" font-family="Liberation Serif, serif" font-size="13" font-weight="bold" text-anchor="end" letter-spacing="-0.1">1000</text>
<text transform="translate(329.7 630.3) rotate(-90)" font-family="Liberation Serif, serif" font-size="13" font-weight="bold" text-anchor="end" letter-spacing="-0.1">10000</text>
<text transform="translate(412.7 630.3) rotate(-90)" font-family="Liberation Serif, serif" font-size="13" font-weight="bold" text-anchor="end" letter-spacing="-0.1">100000</text>
<text transform="translate(493.4 630.3) rotate(-90)" font-family="Liberation Serif, serif" font-size="13" font-weight="bold" text-anchor="end" letter-spacing="-0.1">1000000</text>
<text transform="translate(37 524.8) rotate(-90)" font-family="Liberation Sans, sans-serif" font-size="14" font-weight="bold" text-anchor="middle" stroke="#111" stroke-width="0.3">Donor cells %</text>
<text x="291" y="696.5" font-family="Liberation Sans, sans-serif" font-size="14" font-weight="bold" text-anchor="middle"  stroke="#111" stroke-width="0.3">Number of injected cells</text>
<polyline points="69.6,620.5 193.1,621 245.1,621.2 302.7,621 345,612.5 360.6,573.5 442.8,489" fill="none" stroke="#111" stroke-width="2.2"/>
<polyline points="69.6,620.3 109.2,616.8 193.1,616.9 245,608.9 301.9,557.7 345.2,493.5" fill="none" stroke="#111" stroke-width="2.2"/>
<polyline points="69.6,620 108.8,616 160.8,610.3 192.8,605.3 245,571.6 301.7,511.7" fill="none" stroke="#111" stroke-width="2.2"/>
<path d="M192.5 597.6V599.8M192.5 610.8V612.3M189.3 597.6h6.4M189.3 612.3h6.4M244.5 562.4V566.1M244.5 577.1V581.2M241.3 562.4h6.4M241.3 581.2h6.4M301.5 498.2V506.2M301.5 517.1999999999999V525.2M298.3 498.2h6.4M298.3 525.2h6.4M301.5 544.8V551.9000000000001M301.5 563.5V569.8M298.3 544.8h6.4M298.3 569.8h6.4M344.5 476.5V487.59999999999997M344.5 499.2V510.8M341.3 476.5h6.4M341.3 510.8h6.4M360.5 567.2V570.95M360.5 582.05V587M357.3 567.2h6.4M357.3 587h6.4M443.5 480.8V483.65M443.5 494.75V497.2M440.3 480.8h6.4M440.3 497.2h6.4" stroke="#111" stroke-width="1.3" fill="none"/>
<circle cx="69.6" cy="620" r="2.9" fill="#fff" stroke="#111" stroke-width="1.6"/>
<circle cx="108.8" cy="616" r="3" fill="#111" stroke="#111" stroke-width="1.6"/>
<circle cx="160.8" cy="610.3" r="2.9" fill="#fff" stroke="#111" stroke-width="1.6"/>
<circle cx="192.8" cy="605.3" r="2.9" fill="#fff" stroke="#111" stroke-width="1.6"/>
<circle cx="245" cy="571.6" r="2.9" fill="#fff" stroke="#111" stroke-width="1.6"/>
<circle cx="301.7" cy="511.7" r="2.9" fill="#fff" stroke="#111" stroke-width="1.6"/>
<rect x="66.64999999999999" y="617.55" width="5.9" height="5.9" fill="#fff" stroke="#111" stroke-width="1.6"/>
<rect x="190.15" y="618.05" width="5.9" height="5.9" fill="#fff" stroke="#111" stroke-width="1.6"/>
<rect x="242.15" y="618.25" width="5.9" height="5.9" fill="#fff" stroke="#111" stroke-width="1.6"/>
<rect x="299.75" y="618.05" width="5.9" height="5.9" fill="#fff" stroke="#111" stroke-width="1.6"/>
<rect x="342.05" y="609.55" width="5.9" height="5.9" fill="#fff" stroke="#111" stroke-width="1.6"/>
<rect x="357.65000000000003" y="573.55" width="5.9" height="5.9" fill="#fff" stroke="#111" stroke-width="1.6"/>
<rect x="440.35" y="486.25" width="5.9" height="5.9" fill="#fff" stroke="#111" stroke-width="1.6"/>
<rect x="66.0" y="616.8000000000001" width="7.8" height="7.8" fill="#111"/>
<rect x="105.3" y="615.1" width="7.8" height="7.8" fill="#111"/>
<rect x="241.1" y="605.0" width="7.8" height="7.8" fill="#111"/>
<rect x="298.0" y="553.8000000000001" width="7.8" height="7.8" fill="#111"/>
<rect x="341.1" y="489.5" width="7.8" height="7.8" fill="#111"/>
<text x="258" y="473.2" font-family="Liberation Sans, sans-serif" font-size="12" font-weight="bold" stroke="#111" stroke-width="0.3">HEMCAM<tspan font-size="11" dy="-3">+</tspan></text>
<text x="273.4" y="489.2" font-family="Liberation Sans, sans-serif" font-size="12" font-weight="bold" stroke="#111" stroke-width="0.3">c-kit<tspan font-size="11" dy="-3">+</tspan></text>
<text x="341" y="471.8" font-family="Liberation Sans, sans-serif" font-size="12" font-weight="bold" stroke="#111" stroke-width="0.3">HEMCAM<tspan font-size="11" dy="-3">+</tspan></text>
<text x="438.5" y="470.8" font-family="Liberation Sans, sans-serif" font-size="12" font-weight="bold" text-anchor="start"  stroke="#111" stroke-width="0.3">bm</text>
</svg>
</body></html>
